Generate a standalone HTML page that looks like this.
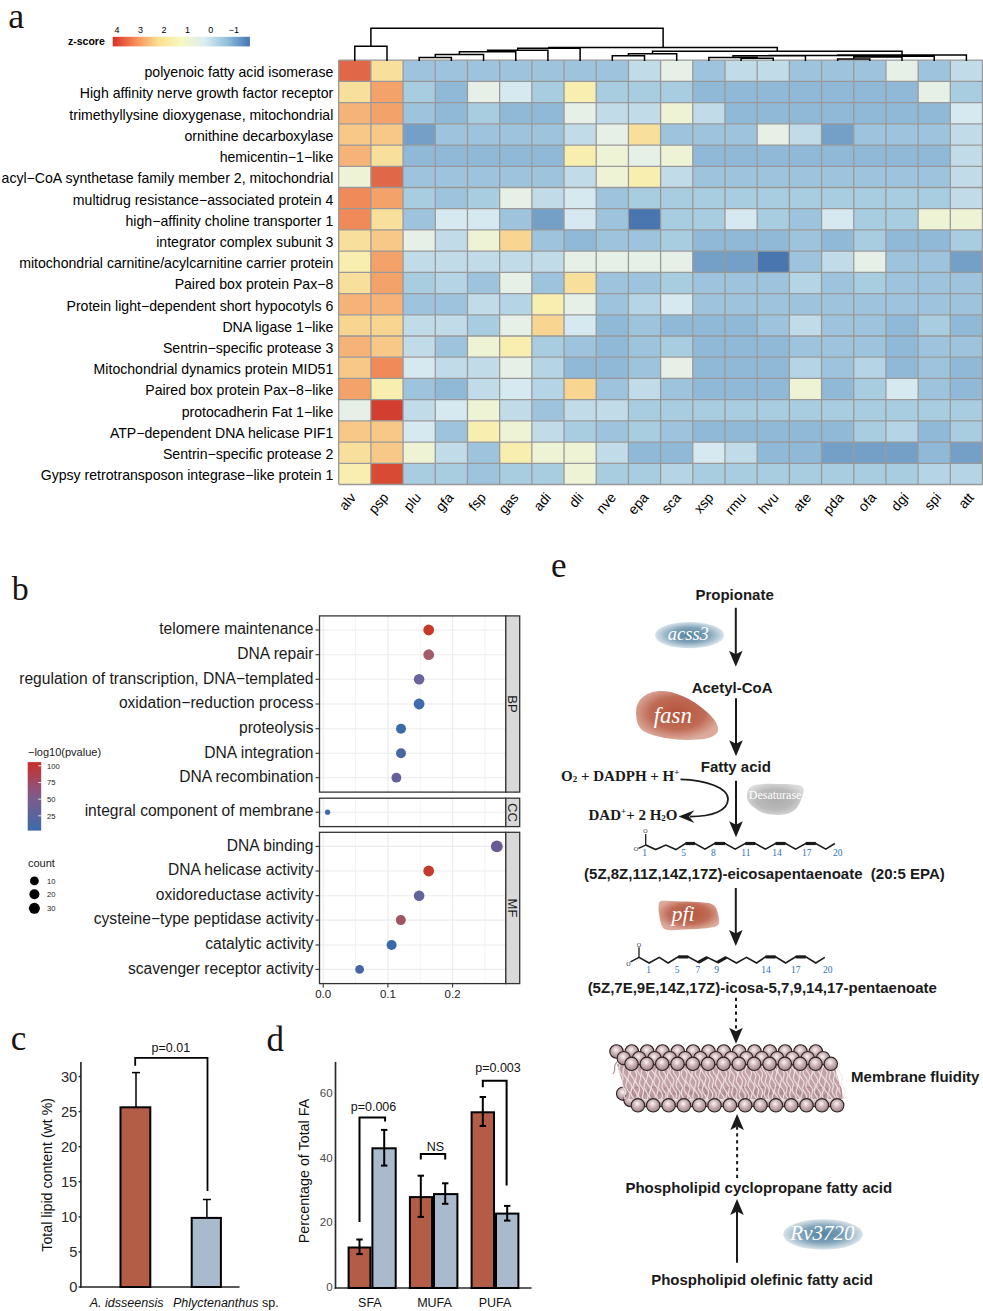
<!DOCTYPE html>
<html><head><meta charset="utf-8"><style>
html,body{margin:0;padding:0;background:#fff;}
body{width:983px;height:1311px;overflow:hidden;font-family:"Liberation Sans",sans-serif;}
svg{display:block;}
</style></head><body>
<svg width="983" height="1311" viewBox="0 0 983 1311">
<rect width="983" height="1311" fill="#fff"/>
<text x="8.30" y="27.80" font-family="Liberation Serif" font-size="36" text-anchor="start" font-weight="normal" font-style="normal" fill="#1a1512" >a</text>
<defs><linearGradient id="zs" x1="0" x2="1" y1="0" y2="0"><stop offset="0" stop-color="#d73027"/><stop offset="0.1667" stop-color="#f88d59"/><stop offset="0.3333" stop-color="#fbe090"/><stop offset="0.5" stop-color="#f8f8c0"/><stop offset="0.6667" stop-color="#dcedf2"/><stop offset="0.8333" stop-color="#91bfdb"/><stop offset="1" stop-color="#4575b4"/></linearGradient><linearGradient id="pv" x1="0" x2="0" y1="1" y2="0"><stop offset="0" stop-color="#3b6bab"/><stop offset="0.5" stop-color="#805a8a"/><stop offset="1" stop-color="#c9302a"/></linearGradient></defs>
<rect x="112.70" y="36.80" width="137.20" height="9.60" fill="url(#zs)" stroke="none" stroke-width="0" />
<text x="104.80" y="45.00" font-family="Liberation Sans" font-size="10.5" text-anchor="end" font-weight="bold" font-style="normal" fill="#000" >z-score</text>
<text x="117.10" y="33.20" font-family="Liberation Sans" font-size="9" text-anchor="middle" font-weight="normal" font-style="normal" fill="#000" >4</text>
<text x="140.60" y="33.20" font-family="Liberation Sans" font-size="9" text-anchor="middle" font-weight="normal" font-style="normal" fill="#000" >3</text>
<text x="164.10" y="33.20" font-family="Liberation Sans" font-size="9" text-anchor="middle" font-weight="normal" font-style="normal" fill="#000" >2</text>
<text x="187.60" y="33.20" font-family="Liberation Sans" font-size="9" text-anchor="middle" font-weight="normal" font-style="normal" fill="#000" >1</text>
<text x="210.70" y="33.20" font-family="Liberation Sans" font-size="9" text-anchor="middle" font-weight="normal" font-style="normal" fill="#000" >0</text>
<text x="234.00" y="33.20" font-family="Liberation Sans" font-size="9" text-anchor="middle" font-weight="normal" font-style="normal" fill="#000" >−1</text>
<rect x="338.70" y="60.20" width="32.19" height="21.21" fill="#e06848" stroke="none" stroke-width="0" />
<rect x="370.89" y="60.20" width="32.19" height="21.21" fill="#f8df9c" stroke="none" stroke-width="0" />
<rect x="403.08" y="60.20" width="32.19" height="21.21" fill="#9dc4dc" stroke="none" stroke-width="0" />
<rect x="435.27" y="60.20" width="32.19" height="21.21" fill="#9dc4dc" stroke="none" stroke-width="0" />
<rect x="467.46" y="60.20" width="32.19" height="21.21" fill="#9dc4dc" stroke="none" stroke-width="0" />
<rect x="499.65" y="60.20" width="32.19" height="21.21" fill="#9dc4dc" stroke="none" stroke-width="0" />
<rect x="531.84" y="60.20" width="32.19" height="21.21" fill="#9dc4dc" stroke="none" stroke-width="0" />
<rect x="564.03" y="60.20" width="32.19" height="21.21" fill="#9dc4dc" stroke="none" stroke-width="0" />
<rect x="596.22" y="60.20" width="32.19" height="21.21" fill="#9dc4dc" stroke="none" stroke-width="0" />
<rect x="628.41" y="60.20" width="32.19" height="21.21" fill="#c2dbe9" stroke="none" stroke-width="0" />
<rect x="660.60" y="60.20" width="32.19" height="21.21" fill="#e6f0e6" stroke="none" stroke-width="0" />
<rect x="692.79" y="60.20" width="32.19" height="21.21" fill="#9dc4dc" stroke="none" stroke-width="0" />
<rect x="724.98" y="60.20" width="32.19" height="21.21" fill="#c2dbe9" stroke="none" stroke-width="0" />
<rect x="757.17" y="60.20" width="32.19" height="21.21" fill="#c2dbe9" stroke="none" stroke-width="0" />
<rect x="789.36" y="60.20" width="32.19" height="21.21" fill="#9dc4dc" stroke="none" stroke-width="0" />
<rect x="821.55" y="60.20" width="32.19" height="21.21" fill="#9dc4dc" stroke="none" stroke-width="0" />
<rect x="853.74" y="60.20" width="32.19" height="21.21" fill="#9dc4dc" stroke="none" stroke-width="0" />
<rect x="885.93" y="60.20" width="32.19" height="21.21" fill="#e6f0e6" stroke="none" stroke-width="0" />
<rect x="918.12" y="60.20" width="32.19" height="21.21" fill="#9dc4dc" stroke="none" stroke-width="0" />
<rect x="950.31" y="60.20" width="32.19" height="21.21" fill="#c2dbe9" stroke="none" stroke-width="0" />
<rect x="338.70" y="81.42" width="32.19" height="21.21" fill="#f8df9c" stroke="none" stroke-width="0" />
<rect x="370.89" y="81.42" width="32.19" height="21.21" fill="#f3a36a" stroke="none" stroke-width="0" />
<rect x="403.08" y="81.42" width="32.19" height="21.21" fill="#a8cce0" stroke="none" stroke-width="0" />
<rect x="435.27" y="81.42" width="32.19" height="21.21" fill="#8fb9d7" stroke="none" stroke-width="0" />
<rect x="467.46" y="81.42" width="32.19" height="21.21" fill="#e6f0e6" stroke="none" stroke-width="0" />
<rect x="499.65" y="81.42" width="32.19" height="21.21" fill="#d6e9f1" stroke="none" stroke-width="0" />
<rect x="531.84" y="81.42" width="32.19" height="21.21" fill="#a8cce0" stroke="none" stroke-width="0" />
<rect x="564.03" y="81.42" width="32.19" height="21.21" fill="#f7eeb0" stroke="none" stroke-width="0" />
<rect x="596.22" y="81.42" width="32.19" height="21.21" fill="#a8cce0" stroke="none" stroke-width="0" />
<rect x="628.41" y="81.42" width="32.19" height="21.21" fill="#a8cce0" stroke="none" stroke-width="0" />
<rect x="660.60" y="81.42" width="32.19" height="21.21" fill="#a8cce0" stroke="none" stroke-width="0" />
<rect x="692.79" y="81.42" width="32.19" height="21.21" fill="#8fb9d7" stroke="none" stroke-width="0" />
<rect x="724.98" y="81.42" width="32.19" height="21.21" fill="#8fb9d7" stroke="none" stroke-width="0" />
<rect x="757.17" y="81.42" width="32.19" height="21.21" fill="#8fb9d7" stroke="none" stroke-width="0" />
<rect x="789.36" y="81.42" width="32.19" height="21.21" fill="#8fb9d7" stroke="none" stroke-width="0" />
<rect x="821.55" y="81.42" width="32.19" height="21.21" fill="#8fb9d7" stroke="none" stroke-width="0" />
<rect x="853.74" y="81.42" width="32.19" height="21.21" fill="#8fb9d7" stroke="none" stroke-width="0" />
<rect x="885.93" y="81.42" width="32.19" height="21.21" fill="#8fb9d7" stroke="none" stroke-width="0" />
<rect x="918.12" y="81.42" width="32.19" height="21.21" fill="#e6f0e6" stroke="none" stroke-width="0" />
<rect x="950.31" y="81.42" width="32.19" height="21.21" fill="#a8cce0" stroke="none" stroke-width="0" />
<rect x="338.70" y="102.63" width="32.19" height="21.21" fill="#f5b37a" stroke="none" stroke-width="0" />
<rect x="370.89" y="102.63" width="32.19" height="21.21" fill="#f3a36a" stroke="none" stroke-width="0" />
<rect x="403.08" y="102.63" width="32.19" height="21.21" fill="#9dc4dc" stroke="none" stroke-width="0" />
<rect x="435.27" y="102.63" width="32.19" height="21.21" fill="#8fb9d7" stroke="none" stroke-width="0" />
<rect x="467.46" y="102.63" width="32.19" height="21.21" fill="#a8cce0" stroke="none" stroke-width="0" />
<rect x="499.65" y="102.63" width="32.19" height="21.21" fill="#8fb9d7" stroke="none" stroke-width="0" />
<rect x="531.84" y="102.63" width="32.19" height="21.21" fill="#8fb9d7" stroke="none" stroke-width="0" />
<rect x="564.03" y="102.63" width="32.19" height="21.21" fill="#e6f0e6" stroke="none" stroke-width="0" />
<rect x="596.22" y="102.63" width="32.19" height="21.21" fill="#c2dbe9" stroke="none" stroke-width="0" />
<rect x="628.41" y="102.63" width="32.19" height="21.21" fill="#c2dbe9" stroke="none" stroke-width="0" />
<rect x="660.60" y="102.63" width="32.19" height="21.21" fill="#eff3d6" stroke="none" stroke-width="0" />
<rect x="692.79" y="102.63" width="32.19" height="21.21" fill="#c2dbe9" stroke="none" stroke-width="0" />
<rect x="724.98" y="102.63" width="32.19" height="21.21" fill="#8fb9d7" stroke="none" stroke-width="0" />
<rect x="757.17" y="102.63" width="32.19" height="21.21" fill="#8fb9d7" stroke="none" stroke-width="0" />
<rect x="789.36" y="102.63" width="32.19" height="21.21" fill="#8fb9d7" stroke="none" stroke-width="0" />
<rect x="821.55" y="102.63" width="32.19" height="21.21" fill="#8fb9d7" stroke="none" stroke-width="0" />
<rect x="853.74" y="102.63" width="32.19" height="21.21" fill="#8fb9d7" stroke="none" stroke-width="0" />
<rect x="885.93" y="102.63" width="32.19" height="21.21" fill="#8fb9d7" stroke="none" stroke-width="0" />
<rect x="918.12" y="102.63" width="32.19" height="21.21" fill="#8fb9d7" stroke="none" stroke-width="0" />
<rect x="950.31" y="102.63" width="32.19" height="21.21" fill="#d6e9f1" stroke="none" stroke-width="0" />
<rect x="338.70" y="123.84" width="32.19" height="21.21" fill="#f7c888" stroke="none" stroke-width="0" />
<rect x="370.89" y="123.84" width="32.19" height="21.21" fill="#f7c888" stroke="none" stroke-width="0" />
<rect x="403.08" y="123.84" width="32.19" height="21.21" fill="#74a0c8" stroke="none" stroke-width="0" />
<rect x="435.27" y="123.84" width="32.19" height="21.21" fill="#9dc4dc" stroke="none" stroke-width="0" />
<rect x="467.46" y="123.84" width="32.19" height="21.21" fill="#9dc4dc" stroke="none" stroke-width="0" />
<rect x="499.65" y="123.84" width="32.19" height="21.21" fill="#9dc4dc" stroke="none" stroke-width="0" />
<rect x="531.84" y="123.84" width="32.19" height="21.21" fill="#9dc4dc" stroke="none" stroke-width="0" />
<rect x="564.03" y="123.84" width="32.19" height="21.21" fill="#c2dbe9" stroke="none" stroke-width="0" />
<rect x="596.22" y="123.84" width="32.19" height="21.21" fill="#e6f0e6" stroke="none" stroke-width="0" />
<rect x="628.41" y="123.84" width="32.19" height="21.21" fill="#f8df9c" stroke="none" stroke-width="0" />
<rect x="660.60" y="123.84" width="32.19" height="21.21" fill="#9dc4dc" stroke="none" stroke-width="0" />
<rect x="692.79" y="123.84" width="32.19" height="21.21" fill="#9dc4dc" stroke="none" stroke-width="0" />
<rect x="724.98" y="123.84" width="32.19" height="21.21" fill="#9dc4dc" stroke="none" stroke-width="0" />
<rect x="757.17" y="123.84" width="32.19" height="21.21" fill="#e6f0e6" stroke="none" stroke-width="0" />
<rect x="789.36" y="123.84" width="32.19" height="21.21" fill="#c2dbe9" stroke="none" stroke-width="0" />
<rect x="821.55" y="123.84" width="32.19" height="21.21" fill="#74a0c8" stroke="none" stroke-width="0" />
<rect x="853.74" y="123.84" width="32.19" height="21.21" fill="#9dc4dc" stroke="none" stroke-width="0" />
<rect x="885.93" y="123.84" width="32.19" height="21.21" fill="#9dc4dc" stroke="none" stroke-width="0" />
<rect x="918.12" y="123.84" width="32.19" height="21.21" fill="#9dc4dc" stroke="none" stroke-width="0" />
<rect x="950.31" y="123.84" width="32.19" height="21.21" fill="#c2dbe9" stroke="none" stroke-width="0" />
<rect x="338.70" y="145.06" width="32.19" height="21.21" fill="#f5b37a" stroke="none" stroke-width="0" />
<rect x="370.89" y="145.06" width="32.19" height="21.21" fill="#f8df9c" stroke="none" stroke-width="0" />
<rect x="403.08" y="145.06" width="32.19" height="21.21" fill="#8fb9d7" stroke="none" stroke-width="0" />
<rect x="435.27" y="145.06" width="32.19" height="21.21" fill="#8fb9d7" stroke="none" stroke-width="0" />
<rect x="467.46" y="145.06" width="32.19" height="21.21" fill="#8fb9d7" stroke="none" stroke-width="0" />
<rect x="499.65" y="145.06" width="32.19" height="21.21" fill="#8fb9d7" stroke="none" stroke-width="0" />
<rect x="531.84" y="145.06" width="32.19" height="21.21" fill="#8fb9d7" stroke="none" stroke-width="0" />
<rect x="564.03" y="145.06" width="32.19" height="21.21" fill="#f7eeb0" stroke="none" stroke-width="0" />
<rect x="596.22" y="145.06" width="32.19" height="21.21" fill="#eff3d6" stroke="none" stroke-width="0" />
<rect x="628.41" y="145.06" width="32.19" height="21.21" fill="#e6f0e6" stroke="none" stroke-width="0" />
<rect x="660.60" y="145.06" width="32.19" height="21.21" fill="#eff3d6" stroke="none" stroke-width="0" />
<rect x="692.79" y="145.06" width="32.19" height="21.21" fill="#8fb9d7" stroke="none" stroke-width="0" />
<rect x="724.98" y="145.06" width="32.19" height="21.21" fill="#8fb9d7" stroke="none" stroke-width="0" />
<rect x="757.17" y="145.06" width="32.19" height="21.21" fill="#8fb9d7" stroke="none" stroke-width="0" />
<rect x="789.36" y="145.06" width="32.19" height="21.21" fill="#8fb9d7" stroke="none" stroke-width="0" />
<rect x="821.55" y="145.06" width="32.19" height="21.21" fill="#8fb9d7" stroke="none" stroke-width="0" />
<rect x="853.74" y="145.06" width="32.19" height="21.21" fill="#8fb9d7" stroke="none" stroke-width="0" />
<rect x="885.93" y="145.06" width="32.19" height="21.21" fill="#8fb9d7" stroke="none" stroke-width="0" />
<rect x="918.12" y="145.06" width="32.19" height="21.21" fill="#8fb9d7" stroke="none" stroke-width="0" />
<rect x="950.31" y="145.06" width="32.19" height="21.21" fill="#c2dbe9" stroke="none" stroke-width="0" />
<rect x="338.70" y="166.28" width="32.19" height="21.21" fill="#eff3d6" stroke="none" stroke-width="0" />
<rect x="370.89" y="166.28" width="32.19" height="21.21" fill="#e06848" stroke="none" stroke-width="0" />
<rect x="403.08" y="166.28" width="32.19" height="21.21" fill="#9dc4dc" stroke="none" stroke-width="0" />
<rect x="435.27" y="166.28" width="32.19" height="21.21" fill="#9dc4dc" stroke="none" stroke-width="0" />
<rect x="467.46" y="166.28" width="32.19" height="21.21" fill="#9dc4dc" stroke="none" stroke-width="0" />
<rect x="499.65" y="166.28" width="32.19" height="21.21" fill="#9dc4dc" stroke="none" stroke-width="0" />
<rect x="531.84" y="166.28" width="32.19" height="21.21" fill="#9dc4dc" stroke="none" stroke-width="0" />
<rect x="564.03" y="166.28" width="32.19" height="21.21" fill="#c2dbe9" stroke="none" stroke-width="0" />
<rect x="596.22" y="166.28" width="32.19" height="21.21" fill="#eff3d6" stroke="none" stroke-width="0" />
<rect x="628.41" y="166.28" width="32.19" height="21.21" fill="#f7eeb0" stroke="none" stroke-width="0" />
<rect x="660.60" y="166.28" width="32.19" height="21.21" fill="#c2dbe9" stroke="none" stroke-width="0" />
<rect x="692.79" y="166.28" width="32.19" height="21.21" fill="#9dc4dc" stroke="none" stroke-width="0" />
<rect x="724.98" y="166.28" width="32.19" height="21.21" fill="#9dc4dc" stroke="none" stroke-width="0" />
<rect x="757.17" y="166.28" width="32.19" height="21.21" fill="#9dc4dc" stroke="none" stroke-width="0" />
<rect x="789.36" y="166.28" width="32.19" height="21.21" fill="#9dc4dc" stroke="none" stroke-width="0" />
<rect x="821.55" y="166.28" width="32.19" height="21.21" fill="#9dc4dc" stroke="none" stroke-width="0" />
<rect x="853.74" y="166.28" width="32.19" height="21.21" fill="#9dc4dc" stroke="none" stroke-width="0" />
<rect x="885.93" y="166.28" width="32.19" height="21.21" fill="#9dc4dc" stroke="none" stroke-width="0" />
<rect x="918.12" y="166.28" width="32.19" height="21.21" fill="#9dc4dc" stroke="none" stroke-width="0" />
<rect x="950.31" y="166.28" width="32.19" height="21.21" fill="#c2dbe9" stroke="none" stroke-width="0" />
<rect x="338.70" y="187.49" width="32.19" height="21.21" fill="#f08a58" stroke="none" stroke-width="0" />
<rect x="370.89" y="187.49" width="32.19" height="21.21" fill="#f3a36a" stroke="none" stroke-width="0" />
<rect x="403.08" y="187.49" width="32.19" height="21.21" fill="#a8cce0" stroke="none" stroke-width="0" />
<rect x="435.27" y="187.49" width="32.19" height="21.21" fill="#9dc4dc" stroke="none" stroke-width="0" />
<rect x="467.46" y="187.49" width="32.19" height="21.21" fill="#a8cce0" stroke="none" stroke-width="0" />
<rect x="499.65" y="187.49" width="32.19" height="21.21" fill="#e6f0e6" stroke="none" stroke-width="0" />
<rect x="531.84" y="187.49" width="32.19" height="21.21" fill="#c2dbe9" stroke="none" stroke-width="0" />
<rect x="564.03" y="187.49" width="32.19" height="21.21" fill="#d6e9f1" stroke="none" stroke-width="0" />
<rect x="596.22" y="187.49" width="32.19" height="21.21" fill="#9dc4dc" stroke="none" stroke-width="0" />
<rect x="628.41" y="187.49" width="32.19" height="21.21" fill="#a8cce0" stroke="none" stroke-width="0" />
<rect x="660.60" y="187.49" width="32.19" height="21.21" fill="#a8cce0" stroke="none" stroke-width="0" />
<rect x="692.79" y="187.49" width="32.19" height="21.21" fill="#a8cce0" stroke="none" stroke-width="0" />
<rect x="724.98" y="187.49" width="32.19" height="21.21" fill="#a8cce0" stroke="none" stroke-width="0" />
<rect x="757.17" y="187.49" width="32.19" height="21.21" fill="#a8cce0" stroke="none" stroke-width="0" />
<rect x="789.36" y="187.49" width="32.19" height="21.21" fill="#a8cce0" stroke="none" stroke-width="0" />
<rect x="821.55" y="187.49" width="32.19" height="21.21" fill="#a8cce0" stroke="none" stroke-width="0" />
<rect x="853.74" y="187.49" width="32.19" height="21.21" fill="#a8cce0" stroke="none" stroke-width="0" />
<rect x="885.93" y="187.49" width="32.19" height="21.21" fill="#a8cce0" stroke="none" stroke-width="0" />
<rect x="918.12" y="187.49" width="32.19" height="21.21" fill="#a8cce0" stroke="none" stroke-width="0" />
<rect x="950.31" y="187.49" width="32.19" height="21.21" fill="#c2dbe9" stroke="none" stroke-width="0" />
<rect x="338.70" y="208.70" width="32.19" height="21.21" fill="#f08a58" stroke="none" stroke-width="0" />
<rect x="370.89" y="208.70" width="32.19" height="21.21" fill="#f8df9c" stroke="none" stroke-width="0" />
<rect x="403.08" y="208.70" width="32.19" height="21.21" fill="#9dc4dc" stroke="none" stroke-width="0" />
<rect x="435.27" y="208.70" width="32.19" height="21.21" fill="#d6e9f1" stroke="none" stroke-width="0" />
<rect x="467.46" y="208.70" width="32.19" height="21.21" fill="#d6e9f1" stroke="none" stroke-width="0" />
<rect x="499.65" y="208.70" width="32.19" height="21.21" fill="#9dc4dc" stroke="none" stroke-width="0" />
<rect x="531.84" y="208.70" width="32.19" height="21.21" fill="#74a0c8" stroke="none" stroke-width="0" />
<rect x="564.03" y="208.70" width="32.19" height="21.21" fill="#d6e9f1" stroke="none" stroke-width="0" />
<rect x="596.22" y="208.70" width="32.19" height="21.21" fill="#9dc4dc" stroke="none" stroke-width="0" />
<rect x="628.41" y="208.70" width="32.19" height="21.21" fill="#4a76b0" stroke="none" stroke-width="0" />
<rect x="660.60" y="208.70" width="32.19" height="21.21" fill="#a8cce0" stroke="none" stroke-width="0" />
<rect x="692.79" y="208.70" width="32.19" height="21.21" fill="#a8cce0" stroke="none" stroke-width="0" />
<rect x="724.98" y="208.70" width="32.19" height="21.21" fill="#d6e9f1" stroke="none" stroke-width="0" />
<rect x="757.17" y="208.70" width="32.19" height="21.21" fill="#a8cce0" stroke="none" stroke-width="0" />
<rect x="789.36" y="208.70" width="32.19" height="21.21" fill="#9dc4dc" stroke="none" stroke-width="0" />
<rect x="821.55" y="208.70" width="32.19" height="21.21" fill="#d6e9f1" stroke="none" stroke-width="0" />
<rect x="853.74" y="208.70" width="32.19" height="21.21" fill="#a8cce0" stroke="none" stroke-width="0" />
<rect x="885.93" y="208.70" width="32.19" height="21.21" fill="#a8cce0" stroke="none" stroke-width="0" />
<rect x="918.12" y="208.70" width="32.19" height="21.21" fill="#eff3d6" stroke="none" stroke-width="0" />
<rect x="950.31" y="208.70" width="32.19" height="21.21" fill="#eff3d6" stroke="none" stroke-width="0" />
<rect x="338.70" y="229.92" width="32.19" height="21.21" fill="#f8df9c" stroke="none" stroke-width="0" />
<rect x="370.89" y="229.92" width="32.19" height="21.21" fill="#f7c888" stroke="none" stroke-width="0" />
<rect x="403.08" y="229.92" width="32.19" height="21.21" fill="#e6f0e6" stroke="none" stroke-width="0" />
<rect x="435.27" y="229.92" width="32.19" height="21.21" fill="#c2dbe9" stroke="none" stroke-width="0" />
<rect x="467.46" y="229.92" width="32.19" height="21.21" fill="#eff3d6" stroke="none" stroke-width="0" />
<rect x="499.65" y="229.92" width="32.19" height="21.21" fill="#f8d692" stroke="none" stroke-width="0" />
<rect x="531.84" y="229.92" width="32.19" height="21.21" fill="#9dc4dc" stroke="none" stroke-width="0" />
<rect x="564.03" y="229.92" width="32.19" height="21.21" fill="#8fb9d7" stroke="none" stroke-width="0" />
<rect x="596.22" y="229.92" width="32.19" height="21.21" fill="#9dc4dc" stroke="none" stroke-width="0" />
<rect x="628.41" y="229.92" width="32.19" height="21.21" fill="#9dc4dc" stroke="none" stroke-width="0" />
<rect x="660.60" y="229.92" width="32.19" height="21.21" fill="#a8cce0" stroke="none" stroke-width="0" />
<rect x="692.79" y="229.92" width="32.19" height="21.21" fill="#8fb9d7" stroke="none" stroke-width="0" />
<rect x="724.98" y="229.92" width="32.19" height="21.21" fill="#8fb9d7" stroke="none" stroke-width="0" />
<rect x="757.17" y="229.92" width="32.19" height="21.21" fill="#8fb9d7" stroke="none" stroke-width="0" />
<rect x="789.36" y="229.92" width="32.19" height="21.21" fill="#9dc4dc" stroke="none" stroke-width="0" />
<rect x="821.55" y="229.92" width="32.19" height="21.21" fill="#8fb9d7" stroke="none" stroke-width="0" />
<rect x="853.74" y="229.92" width="32.19" height="21.21" fill="#a8cce0" stroke="none" stroke-width="0" />
<rect x="885.93" y="229.92" width="32.19" height="21.21" fill="#8fb9d7" stroke="none" stroke-width="0" />
<rect x="918.12" y="229.92" width="32.19" height="21.21" fill="#8fb9d7" stroke="none" stroke-width="0" />
<rect x="950.31" y="229.92" width="32.19" height="21.21" fill="#a8cce0" stroke="none" stroke-width="0" />
<rect x="338.70" y="251.13" width="32.19" height="21.21" fill="#f7eeb0" stroke="none" stroke-width="0" />
<rect x="370.89" y="251.13" width="32.19" height="21.21" fill="#f3a36a" stroke="none" stroke-width="0" />
<rect x="403.08" y="251.13" width="32.19" height="21.21" fill="#c2dbe9" stroke="none" stroke-width="0" />
<rect x="435.27" y="251.13" width="32.19" height="21.21" fill="#c2dbe9" stroke="none" stroke-width="0" />
<rect x="467.46" y="251.13" width="32.19" height="21.21" fill="#c2dbe9" stroke="none" stroke-width="0" />
<rect x="499.65" y="251.13" width="32.19" height="21.21" fill="#c2dbe9" stroke="none" stroke-width="0" />
<rect x="531.84" y="251.13" width="32.19" height="21.21" fill="#c2dbe9" stroke="none" stroke-width="0" />
<rect x="564.03" y="251.13" width="32.19" height="21.21" fill="#e6f0e6" stroke="none" stroke-width="0" />
<rect x="596.22" y="251.13" width="32.19" height="21.21" fill="#e6f0e6" stroke="none" stroke-width="0" />
<rect x="628.41" y="251.13" width="32.19" height="21.21" fill="#e6f0e6" stroke="none" stroke-width="0" />
<rect x="660.60" y="251.13" width="32.19" height="21.21" fill="#e6f0e6" stroke="none" stroke-width="0" />
<rect x="692.79" y="251.13" width="32.19" height="21.21" fill="#74a0c8" stroke="none" stroke-width="0" />
<rect x="724.98" y="251.13" width="32.19" height="21.21" fill="#74a0c8" stroke="none" stroke-width="0" />
<rect x="757.17" y="251.13" width="32.19" height="21.21" fill="#4a76b0" stroke="none" stroke-width="0" />
<rect x="789.36" y="251.13" width="32.19" height="21.21" fill="#9dc4dc" stroke="none" stroke-width="0" />
<rect x="821.55" y="251.13" width="32.19" height="21.21" fill="#c2dbe9" stroke="none" stroke-width="0" />
<rect x="853.74" y="251.13" width="32.19" height="21.21" fill="#e6f0e6" stroke="none" stroke-width="0" />
<rect x="885.93" y="251.13" width="32.19" height="21.21" fill="#9dc4dc" stroke="none" stroke-width="0" />
<rect x="918.12" y="251.13" width="32.19" height="21.21" fill="#9dc4dc" stroke="none" stroke-width="0" />
<rect x="950.31" y="251.13" width="32.19" height="21.21" fill="#74a0c8" stroke="none" stroke-width="0" />
<rect x="338.70" y="272.35" width="32.19" height="21.21" fill="#f8df9c" stroke="none" stroke-width="0" />
<rect x="370.89" y="272.35" width="32.19" height="21.21" fill="#f3a36a" stroke="none" stroke-width="0" />
<rect x="403.08" y="272.35" width="32.19" height="21.21" fill="#a8cce0" stroke="none" stroke-width="0" />
<rect x="435.27" y="272.35" width="32.19" height="21.21" fill="#b5d4e6" stroke="none" stroke-width="0" />
<rect x="467.46" y="272.35" width="32.19" height="21.21" fill="#9dc4dc" stroke="none" stroke-width="0" />
<rect x="499.65" y="272.35" width="32.19" height="21.21" fill="#e6f0e6" stroke="none" stroke-width="0" />
<rect x="531.84" y="272.35" width="32.19" height="21.21" fill="#9dc4dc" stroke="none" stroke-width="0" />
<rect x="564.03" y="272.35" width="32.19" height="21.21" fill="#f8df9c" stroke="none" stroke-width="0" />
<rect x="596.22" y="272.35" width="32.19" height="21.21" fill="#9dc4dc" stroke="none" stroke-width="0" />
<rect x="628.41" y="272.35" width="32.19" height="21.21" fill="#9dc4dc" stroke="none" stroke-width="0" />
<rect x="660.60" y="272.35" width="32.19" height="21.21" fill="#a8cce0" stroke="none" stroke-width="0" />
<rect x="692.79" y="272.35" width="32.19" height="21.21" fill="#9dc4dc" stroke="none" stroke-width="0" />
<rect x="724.98" y="272.35" width="32.19" height="21.21" fill="#9dc4dc" stroke="none" stroke-width="0" />
<rect x="757.17" y="272.35" width="32.19" height="21.21" fill="#9dc4dc" stroke="none" stroke-width="0" />
<rect x="789.36" y="272.35" width="32.19" height="21.21" fill="#b5d4e6" stroke="none" stroke-width="0" />
<rect x="821.55" y="272.35" width="32.19" height="21.21" fill="#9dc4dc" stroke="none" stroke-width="0" />
<rect x="853.74" y="272.35" width="32.19" height="21.21" fill="#a8cce0" stroke="none" stroke-width="0" />
<rect x="885.93" y="272.35" width="32.19" height="21.21" fill="#9dc4dc" stroke="none" stroke-width="0" />
<rect x="918.12" y="272.35" width="32.19" height="21.21" fill="#9dc4dc" stroke="none" stroke-width="0" />
<rect x="950.31" y="272.35" width="32.19" height="21.21" fill="#9dc4dc" stroke="none" stroke-width="0" />
<rect x="338.70" y="293.56" width="32.19" height="21.21" fill="#f5b37a" stroke="none" stroke-width="0" />
<rect x="370.89" y="293.56" width="32.19" height="21.21" fill="#f5b37a" stroke="none" stroke-width="0" />
<rect x="403.08" y="293.56" width="32.19" height="21.21" fill="#9dc4dc" stroke="none" stroke-width="0" />
<rect x="435.27" y="293.56" width="32.19" height="21.21" fill="#9dc4dc" stroke="none" stroke-width="0" />
<rect x="467.46" y="293.56" width="32.19" height="21.21" fill="#c2dbe9" stroke="none" stroke-width="0" />
<rect x="499.65" y="293.56" width="32.19" height="21.21" fill="#b5d4e6" stroke="none" stroke-width="0" />
<rect x="531.84" y="293.56" width="32.19" height="21.21" fill="#f7eeb0" stroke="none" stroke-width="0" />
<rect x="564.03" y="293.56" width="32.19" height="21.21" fill="#e6f0e6" stroke="none" stroke-width="0" />
<rect x="596.22" y="293.56" width="32.19" height="21.21" fill="#9dc4dc" stroke="none" stroke-width="0" />
<rect x="628.41" y="293.56" width="32.19" height="21.21" fill="#b5d4e6" stroke="none" stroke-width="0" />
<rect x="660.60" y="293.56" width="32.19" height="21.21" fill="#d6e9f1" stroke="none" stroke-width="0" />
<rect x="692.79" y="293.56" width="32.19" height="21.21" fill="#9dc4dc" stroke="none" stroke-width="0" />
<rect x="724.98" y="293.56" width="32.19" height="21.21" fill="#9dc4dc" stroke="none" stroke-width="0" />
<rect x="757.17" y="293.56" width="32.19" height="21.21" fill="#9dc4dc" stroke="none" stroke-width="0" />
<rect x="789.36" y="293.56" width="32.19" height="21.21" fill="#9dc4dc" stroke="none" stroke-width="0" />
<rect x="821.55" y="293.56" width="32.19" height="21.21" fill="#9dc4dc" stroke="none" stroke-width="0" />
<rect x="853.74" y="293.56" width="32.19" height="21.21" fill="#9dc4dc" stroke="none" stroke-width="0" />
<rect x="885.93" y="293.56" width="32.19" height="21.21" fill="#9dc4dc" stroke="none" stroke-width="0" />
<rect x="918.12" y="293.56" width="32.19" height="21.21" fill="#9dc4dc" stroke="none" stroke-width="0" />
<rect x="950.31" y="293.56" width="32.19" height="21.21" fill="#9dc4dc" stroke="none" stroke-width="0" />
<rect x="338.70" y="314.78" width="32.19" height="21.21" fill="#f8d692" stroke="none" stroke-width="0" />
<rect x="370.89" y="314.78" width="32.19" height="21.21" fill="#f8d692" stroke="none" stroke-width="0" />
<rect x="403.08" y="314.78" width="32.19" height="21.21" fill="#c2dbe9" stroke="none" stroke-width="0" />
<rect x="435.27" y="314.78" width="32.19" height="21.21" fill="#c2dbe9" stroke="none" stroke-width="0" />
<rect x="467.46" y="314.78" width="32.19" height="21.21" fill="#a8cce0" stroke="none" stroke-width="0" />
<rect x="499.65" y="314.78" width="32.19" height="21.21" fill="#e6f0e6" stroke="none" stroke-width="0" />
<rect x="531.84" y="314.78" width="32.19" height="21.21" fill="#f8d692" stroke="none" stroke-width="0" />
<rect x="564.03" y="314.78" width="32.19" height="21.21" fill="#d6e9f1" stroke="none" stroke-width="0" />
<rect x="596.22" y="314.78" width="32.19" height="21.21" fill="#8fb9d7" stroke="none" stroke-width="0" />
<rect x="628.41" y="314.78" width="32.19" height="21.21" fill="#9dc4dc" stroke="none" stroke-width="0" />
<rect x="660.60" y="314.78" width="32.19" height="21.21" fill="#8fb9d7" stroke="none" stroke-width="0" />
<rect x="692.79" y="314.78" width="32.19" height="21.21" fill="#8fb9d7" stroke="none" stroke-width="0" />
<rect x="724.98" y="314.78" width="32.19" height="21.21" fill="#8fb9d7" stroke="none" stroke-width="0" />
<rect x="757.17" y="314.78" width="32.19" height="21.21" fill="#9dc4dc" stroke="none" stroke-width="0" />
<rect x="789.36" y="314.78" width="32.19" height="21.21" fill="#c2dbe9" stroke="none" stroke-width="0" />
<rect x="821.55" y="314.78" width="32.19" height="21.21" fill="#9dc4dc" stroke="none" stroke-width="0" />
<rect x="853.74" y="314.78" width="32.19" height="21.21" fill="#9dc4dc" stroke="none" stroke-width="0" />
<rect x="885.93" y="314.78" width="32.19" height="21.21" fill="#8fb9d7" stroke="none" stroke-width="0" />
<rect x="918.12" y="314.78" width="32.19" height="21.21" fill="#a8cce0" stroke="none" stroke-width="0" />
<rect x="950.31" y="314.78" width="32.19" height="21.21" fill="#8fb9d7" stroke="none" stroke-width="0" />
<rect x="338.70" y="336.00" width="32.19" height="21.21" fill="#f5b37a" stroke="none" stroke-width="0" />
<rect x="370.89" y="336.00" width="32.19" height="21.21" fill="#f7c888" stroke="none" stroke-width="0" />
<rect x="403.08" y="336.00" width="32.19" height="21.21" fill="#c2dbe9" stroke="none" stroke-width="0" />
<rect x="435.27" y="336.00" width="32.19" height="21.21" fill="#9dc4dc" stroke="none" stroke-width="0" />
<rect x="467.46" y="336.00" width="32.19" height="21.21" fill="#eff3d6" stroke="none" stroke-width="0" />
<rect x="499.65" y="336.00" width="32.19" height="21.21" fill="#f7eeb0" stroke="none" stroke-width="0" />
<rect x="531.84" y="336.00" width="32.19" height="21.21" fill="#a8cce0" stroke="none" stroke-width="0" />
<rect x="564.03" y="336.00" width="32.19" height="21.21" fill="#9dc4dc" stroke="none" stroke-width="0" />
<rect x="596.22" y="336.00" width="32.19" height="21.21" fill="#8fb9d7" stroke="none" stroke-width="0" />
<rect x="628.41" y="336.00" width="32.19" height="21.21" fill="#9dc4dc" stroke="none" stroke-width="0" />
<rect x="660.60" y="336.00" width="32.19" height="21.21" fill="#a8cce0" stroke="none" stroke-width="0" />
<rect x="692.79" y="336.00" width="32.19" height="21.21" fill="#8fb9d7" stroke="none" stroke-width="0" />
<rect x="724.98" y="336.00" width="32.19" height="21.21" fill="#8fb9d7" stroke="none" stroke-width="0" />
<rect x="757.17" y="336.00" width="32.19" height="21.21" fill="#8fb9d7" stroke="none" stroke-width="0" />
<rect x="789.36" y="336.00" width="32.19" height="21.21" fill="#9dc4dc" stroke="none" stroke-width="0" />
<rect x="821.55" y="336.00" width="32.19" height="21.21" fill="#9dc4dc" stroke="none" stroke-width="0" />
<rect x="853.74" y="336.00" width="32.19" height="21.21" fill="#9dc4dc" stroke="none" stroke-width="0" />
<rect x="885.93" y="336.00" width="32.19" height="21.21" fill="#8fb9d7" stroke="none" stroke-width="0" />
<rect x="918.12" y="336.00" width="32.19" height="21.21" fill="#9dc4dc" stroke="none" stroke-width="0" />
<rect x="950.31" y="336.00" width="32.19" height="21.21" fill="#9dc4dc" stroke="none" stroke-width="0" />
<rect x="338.70" y="357.21" width="32.19" height="21.21" fill="#f7c888" stroke="none" stroke-width="0" />
<rect x="370.89" y="357.21" width="32.19" height="21.21" fill="#f08a58" stroke="none" stroke-width="0" />
<rect x="403.08" y="357.21" width="32.19" height="21.21" fill="#d6e9f1" stroke="none" stroke-width="0" />
<rect x="435.27" y="357.21" width="32.19" height="21.21" fill="#c2dbe9" stroke="none" stroke-width="0" />
<rect x="467.46" y="357.21" width="32.19" height="21.21" fill="#c2dbe9" stroke="none" stroke-width="0" />
<rect x="499.65" y="357.21" width="32.19" height="21.21" fill="#e6f0e6" stroke="none" stroke-width="0" />
<rect x="531.84" y="357.21" width="32.19" height="21.21" fill="#b5d4e6" stroke="none" stroke-width="0" />
<rect x="564.03" y="357.21" width="32.19" height="21.21" fill="#8fb9d7" stroke="none" stroke-width="0" />
<rect x="596.22" y="357.21" width="32.19" height="21.21" fill="#8fb9d7" stroke="none" stroke-width="0" />
<rect x="628.41" y="357.21" width="32.19" height="21.21" fill="#9dc4dc" stroke="none" stroke-width="0" />
<rect x="660.60" y="357.21" width="32.19" height="21.21" fill="#e6f0e6" stroke="none" stroke-width="0" />
<rect x="692.79" y="357.21" width="32.19" height="21.21" fill="#8fb9d7" stroke="none" stroke-width="0" />
<rect x="724.98" y="357.21" width="32.19" height="21.21" fill="#8fb9d7" stroke="none" stroke-width="0" />
<rect x="757.17" y="357.21" width="32.19" height="21.21" fill="#8fb9d7" stroke="none" stroke-width="0" />
<rect x="789.36" y="357.21" width="32.19" height="21.21" fill="#b5d4e6" stroke="none" stroke-width="0" />
<rect x="821.55" y="357.21" width="32.19" height="21.21" fill="#9dc4dc" stroke="none" stroke-width="0" />
<rect x="853.74" y="357.21" width="32.19" height="21.21" fill="#b5d4e6" stroke="none" stroke-width="0" />
<rect x="885.93" y="357.21" width="32.19" height="21.21" fill="#8fb9d7" stroke="none" stroke-width="0" />
<rect x="918.12" y="357.21" width="32.19" height="21.21" fill="#9dc4dc" stroke="none" stroke-width="0" />
<rect x="950.31" y="357.21" width="32.19" height="21.21" fill="#8fb9d7" stroke="none" stroke-width="0" />
<rect x="338.70" y="378.43" width="32.19" height="21.21" fill="#f3a36a" stroke="none" stroke-width="0" />
<rect x="370.89" y="378.43" width="32.19" height="21.21" fill="#f7eeb0" stroke="none" stroke-width="0" />
<rect x="403.08" y="378.43" width="32.19" height="21.21" fill="#9dc4dc" stroke="none" stroke-width="0" />
<rect x="435.27" y="378.43" width="32.19" height="21.21" fill="#8fb9d7" stroke="none" stroke-width="0" />
<rect x="467.46" y="378.43" width="32.19" height="21.21" fill="#c2dbe9" stroke="none" stroke-width="0" />
<rect x="499.65" y="378.43" width="32.19" height="21.21" fill="#d6e9f1" stroke="none" stroke-width="0" />
<rect x="531.84" y="378.43" width="32.19" height="21.21" fill="#b5d4e6" stroke="none" stroke-width="0" />
<rect x="564.03" y="378.43" width="32.19" height="21.21" fill="#f8d692" stroke="none" stroke-width="0" />
<rect x="596.22" y="378.43" width="32.19" height="21.21" fill="#9dc4dc" stroke="none" stroke-width="0" />
<rect x="628.41" y="378.43" width="32.19" height="21.21" fill="#c2dbe9" stroke="none" stroke-width="0" />
<rect x="660.60" y="378.43" width="32.19" height="21.21" fill="#9dc4dc" stroke="none" stroke-width="0" />
<rect x="692.79" y="378.43" width="32.19" height="21.21" fill="#8fb9d7" stroke="none" stroke-width="0" />
<rect x="724.98" y="378.43" width="32.19" height="21.21" fill="#8fb9d7" stroke="none" stroke-width="0" />
<rect x="757.17" y="378.43" width="32.19" height="21.21" fill="#8fb9d7" stroke="none" stroke-width="0" />
<rect x="789.36" y="378.43" width="32.19" height="21.21" fill="#eff3d6" stroke="none" stroke-width="0" />
<rect x="821.55" y="378.43" width="32.19" height="21.21" fill="#8fb9d7" stroke="none" stroke-width="0" />
<rect x="853.74" y="378.43" width="32.19" height="21.21" fill="#a8cce0" stroke="none" stroke-width="0" />
<rect x="885.93" y="378.43" width="32.19" height="21.21" fill="#d6e9f1" stroke="none" stroke-width="0" />
<rect x="918.12" y="378.43" width="32.19" height="21.21" fill="#9dc4dc" stroke="none" stroke-width="0" />
<rect x="950.31" y="378.43" width="32.19" height="21.21" fill="#8fb9d7" stroke="none" stroke-width="0" />
<rect x="338.70" y="399.64" width="32.19" height="21.21" fill="#e6f0e6" stroke="none" stroke-width="0" />
<rect x="370.89" y="399.64" width="32.19" height="21.21" fill="#d23e30" stroke="none" stroke-width="0" />
<rect x="403.08" y="399.64" width="32.19" height="21.21" fill="#c2dbe9" stroke="none" stroke-width="0" />
<rect x="435.27" y="399.64" width="32.19" height="21.21" fill="#d6e9f1" stroke="none" stroke-width="0" />
<rect x="467.46" y="399.64" width="32.19" height="21.21" fill="#eff3d6" stroke="none" stroke-width="0" />
<rect x="499.65" y="399.64" width="32.19" height="21.21" fill="#c2dbe9" stroke="none" stroke-width="0" />
<rect x="531.84" y="399.64" width="32.19" height="21.21" fill="#9dc4dc" stroke="none" stroke-width="0" />
<rect x="564.03" y="399.64" width="32.19" height="21.21" fill="#c2dbe9" stroke="none" stroke-width="0" />
<rect x="596.22" y="399.64" width="32.19" height="21.21" fill="#c2dbe9" stroke="none" stroke-width="0" />
<rect x="628.41" y="399.64" width="32.19" height="21.21" fill="#a8cce0" stroke="none" stroke-width="0" />
<rect x="660.60" y="399.64" width="32.19" height="21.21" fill="#a8cce0" stroke="none" stroke-width="0" />
<rect x="692.79" y="399.64" width="32.19" height="21.21" fill="#a8cce0" stroke="none" stroke-width="0" />
<rect x="724.98" y="399.64" width="32.19" height="21.21" fill="#a8cce0" stroke="none" stroke-width="0" />
<rect x="757.17" y="399.64" width="32.19" height="21.21" fill="#a8cce0" stroke="none" stroke-width="0" />
<rect x="789.36" y="399.64" width="32.19" height="21.21" fill="#a8cce0" stroke="none" stroke-width="0" />
<rect x="821.55" y="399.64" width="32.19" height="21.21" fill="#a8cce0" stroke="none" stroke-width="0" />
<rect x="853.74" y="399.64" width="32.19" height="21.21" fill="#a8cce0" stroke="none" stroke-width="0" />
<rect x="885.93" y="399.64" width="32.19" height="21.21" fill="#a8cce0" stroke="none" stroke-width="0" />
<rect x="918.12" y="399.64" width="32.19" height="21.21" fill="#a8cce0" stroke="none" stroke-width="0" />
<rect x="950.31" y="399.64" width="32.19" height="21.21" fill="#a8cce0" stroke="none" stroke-width="0" />
<rect x="338.70" y="420.85" width="32.19" height="21.21" fill="#f7c888" stroke="none" stroke-width="0" />
<rect x="370.89" y="420.85" width="32.19" height="21.21" fill="#f7c888" stroke="none" stroke-width="0" />
<rect x="403.08" y="420.85" width="32.19" height="21.21" fill="#d6e9f1" stroke="none" stroke-width="0" />
<rect x="435.27" y="420.85" width="32.19" height="21.21" fill="#9dc4dc" stroke="none" stroke-width="0" />
<rect x="467.46" y="420.85" width="32.19" height="21.21" fill="#f7eeb0" stroke="none" stroke-width="0" />
<rect x="499.65" y="420.85" width="32.19" height="21.21" fill="#eff3d6" stroke="none" stroke-width="0" />
<rect x="531.84" y="420.85" width="32.19" height="21.21" fill="#c2dbe9" stroke="none" stroke-width="0" />
<rect x="564.03" y="420.85" width="32.19" height="21.21" fill="#a8cce0" stroke="none" stroke-width="0" />
<rect x="596.22" y="420.85" width="32.19" height="21.21" fill="#9dc4dc" stroke="none" stroke-width="0" />
<rect x="628.41" y="420.85" width="32.19" height="21.21" fill="#a8cce0" stroke="none" stroke-width="0" />
<rect x="660.60" y="420.85" width="32.19" height="21.21" fill="#9dc4dc" stroke="none" stroke-width="0" />
<rect x="692.79" y="420.85" width="32.19" height="21.21" fill="#8fb9d7" stroke="none" stroke-width="0" />
<rect x="724.98" y="420.85" width="32.19" height="21.21" fill="#8fb9d7" stroke="none" stroke-width="0" />
<rect x="757.17" y="420.85" width="32.19" height="21.21" fill="#8fb9d7" stroke="none" stroke-width="0" />
<rect x="789.36" y="420.85" width="32.19" height="21.21" fill="#8fb9d7" stroke="none" stroke-width="0" />
<rect x="821.55" y="420.85" width="32.19" height="21.21" fill="#8fb9d7" stroke="none" stroke-width="0" />
<rect x="853.74" y="420.85" width="32.19" height="21.21" fill="#a8cce0" stroke="none" stroke-width="0" />
<rect x="885.93" y="420.85" width="32.19" height="21.21" fill="#b5d4e6" stroke="none" stroke-width="0" />
<rect x="918.12" y="420.85" width="32.19" height="21.21" fill="#8fb9d7" stroke="none" stroke-width="0" />
<rect x="950.31" y="420.85" width="32.19" height="21.21" fill="#a8cce0" stroke="none" stroke-width="0" />
<rect x="338.70" y="442.07" width="32.19" height="21.21" fill="#f8df9c" stroke="none" stroke-width="0" />
<rect x="370.89" y="442.07" width="32.19" height="21.21" fill="#f7c888" stroke="none" stroke-width="0" />
<rect x="403.08" y="442.07" width="32.19" height="21.21" fill="#eff3d6" stroke="none" stroke-width="0" />
<rect x="435.27" y="442.07" width="32.19" height="21.21" fill="#c2dbe9" stroke="none" stroke-width="0" />
<rect x="467.46" y="442.07" width="32.19" height="21.21" fill="#9dc4dc" stroke="none" stroke-width="0" />
<rect x="499.65" y="442.07" width="32.19" height="21.21" fill="#f7eeb0" stroke="none" stroke-width="0" />
<rect x="531.84" y="442.07" width="32.19" height="21.21" fill="#eff3d6" stroke="none" stroke-width="0" />
<rect x="564.03" y="442.07" width="32.19" height="21.21" fill="#eff3d6" stroke="none" stroke-width="0" />
<rect x="596.22" y="442.07" width="32.19" height="21.21" fill="#c2dbe9" stroke="none" stroke-width="0" />
<rect x="628.41" y="442.07" width="32.19" height="21.21" fill="#8fb9d7" stroke="none" stroke-width="0" />
<rect x="660.60" y="442.07" width="32.19" height="21.21" fill="#8fb9d7" stroke="none" stroke-width="0" />
<rect x="692.79" y="442.07" width="32.19" height="21.21" fill="#d6e9f1" stroke="none" stroke-width="0" />
<rect x="724.98" y="442.07" width="32.19" height="21.21" fill="#c2dbe9" stroke="none" stroke-width="0" />
<rect x="757.17" y="442.07" width="32.19" height="21.21" fill="#8fb9d7" stroke="none" stroke-width="0" />
<rect x="789.36" y="442.07" width="32.19" height="21.21" fill="#8fb9d7" stroke="none" stroke-width="0" />
<rect x="821.55" y="442.07" width="32.19" height="21.21" fill="#74a0c8" stroke="none" stroke-width="0" />
<rect x="853.74" y="442.07" width="32.19" height="21.21" fill="#74a0c8" stroke="none" stroke-width="0" />
<rect x="885.93" y="442.07" width="32.19" height="21.21" fill="#74a0c8" stroke="none" stroke-width="0" />
<rect x="918.12" y="442.07" width="32.19" height="21.21" fill="#8fb9d7" stroke="none" stroke-width="0" />
<rect x="950.31" y="442.07" width="32.19" height="21.21" fill="#74a0c8" stroke="none" stroke-width="0" />
<rect x="338.70" y="463.28" width="32.19" height="21.21" fill="#f7eeb0" stroke="none" stroke-width="0" />
<rect x="370.89" y="463.28" width="32.19" height="21.21" fill="#d94a34" stroke="none" stroke-width="0" />
<rect x="403.08" y="463.28" width="32.19" height="21.21" fill="#a8cce0" stroke="none" stroke-width="0" />
<rect x="435.27" y="463.28" width="32.19" height="21.21" fill="#a8cce0" stroke="none" stroke-width="0" />
<rect x="467.46" y="463.28" width="32.19" height="21.21" fill="#9dc4dc" stroke="none" stroke-width="0" />
<rect x="499.65" y="463.28" width="32.19" height="21.21" fill="#a8cce0" stroke="none" stroke-width="0" />
<rect x="531.84" y="463.28" width="32.19" height="21.21" fill="#a8cce0" stroke="none" stroke-width="0" />
<rect x="564.03" y="463.28" width="32.19" height="21.21" fill="#eff3d6" stroke="none" stroke-width="0" />
<rect x="596.22" y="463.28" width="32.19" height="21.21" fill="#a8cce0" stroke="none" stroke-width="0" />
<rect x="628.41" y="463.28" width="32.19" height="21.21" fill="#a8cce0" stroke="none" stroke-width="0" />
<rect x="660.60" y="463.28" width="32.19" height="21.21" fill="#b5d4e6" stroke="none" stroke-width="0" />
<rect x="692.79" y="463.28" width="32.19" height="21.21" fill="#a8cce0" stroke="none" stroke-width="0" />
<rect x="724.98" y="463.28" width="32.19" height="21.21" fill="#a8cce0" stroke="none" stroke-width="0" />
<rect x="757.17" y="463.28" width="32.19" height="21.21" fill="#a8cce0" stroke="none" stroke-width="0" />
<rect x="789.36" y="463.28" width="32.19" height="21.21" fill="#a8cce0" stroke="none" stroke-width="0" />
<rect x="821.55" y="463.28" width="32.19" height="21.21" fill="#a8cce0" stroke="none" stroke-width="0" />
<rect x="853.74" y="463.28" width="32.19" height="21.21" fill="#a8cce0" stroke="none" stroke-width="0" />
<rect x="885.93" y="463.28" width="32.19" height="21.21" fill="#a8cce0" stroke="none" stroke-width="0" />
<rect x="918.12" y="463.28" width="32.19" height="21.21" fill="#b5d4e6" stroke="none" stroke-width="0" />
<rect x="950.31" y="463.28" width="32.19" height="21.21" fill="#b5d4e6" stroke="none" stroke-width="0" />
<line x1="338.70" y1="60.20" x2="982.50" y2="60.20" stroke="#999999" stroke-width="1.3" />
<line x1="338.70" y1="81.42" x2="982.50" y2="81.42" stroke="#999999" stroke-width="1.3" />
<line x1="338.70" y1="102.63" x2="982.50" y2="102.63" stroke="#999999" stroke-width="1.3" />
<line x1="338.70" y1="123.84" x2="982.50" y2="123.84" stroke="#999999" stroke-width="1.3" />
<line x1="338.70" y1="145.06" x2="982.50" y2="145.06" stroke="#999999" stroke-width="1.3" />
<line x1="338.70" y1="166.28" x2="982.50" y2="166.28" stroke="#999999" stroke-width="1.3" />
<line x1="338.70" y1="187.49" x2="982.50" y2="187.49" stroke="#999999" stroke-width="1.3" />
<line x1="338.70" y1="208.70" x2="982.50" y2="208.70" stroke="#999999" stroke-width="1.3" />
<line x1="338.70" y1="229.92" x2="982.50" y2="229.92" stroke="#999999" stroke-width="1.3" />
<line x1="338.70" y1="251.13" x2="982.50" y2="251.13" stroke="#999999" stroke-width="1.3" />
<line x1="338.70" y1="272.35" x2="982.50" y2="272.35" stroke="#999999" stroke-width="1.3" />
<line x1="338.70" y1="293.56" x2="982.50" y2="293.56" stroke="#999999" stroke-width="1.3" />
<line x1="338.70" y1="314.78" x2="982.50" y2="314.78" stroke="#999999" stroke-width="1.3" />
<line x1="338.70" y1="336.00" x2="982.50" y2="336.00" stroke="#999999" stroke-width="1.3" />
<line x1="338.70" y1="357.21" x2="982.50" y2="357.21" stroke="#999999" stroke-width="1.3" />
<line x1="338.70" y1="378.43" x2="982.50" y2="378.43" stroke="#999999" stroke-width="1.3" />
<line x1="338.70" y1="399.64" x2="982.50" y2="399.64" stroke="#999999" stroke-width="1.3" />
<line x1="338.70" y1="420.85" x2="982.50" y2="420.85" stroke="#999999" stroke-width="1.3" />
<line x1="338.70" y1="442.07" x2="982.50" y2="442.07" stroke="#999999" stroke-width="1.3" />
<line x1="338.70" y1="463.28" x2="982.50" y2="463.28" stroke="#999999" stroke-width="1.3" />
<line x1="338.70" y1="484.50" x2="982.50" y2="484.50" stroke="#999999" stroke-width="1.3" />
<line x1="338.70" y1="60.20" x2="338.70" y2="484.50" stroke="#999999" stroke-width="1.3" />
<line x1="370.89" y1="60.20" x2="370.89" y2="484.50" stroke="#999999" stroke-width="1.3" />
<line x1="403.08" y1="60.20" x2="403.08" y2="484.50" stroke="#999999" stroke-width="1.3" />
<line x1="435.27" y1="60.20" x2="435.27" y2="484.50" stroke="#999999" stroke-width="1.3" />
<line x1="467.46" y1="60.20" x2="467.46" y2="484.50" stroke="#999999" stroke-width="1.3" />
<line x1="499.65" y1="60.20" x2="499.65" y2="484.50" stroke="#999999" stroke-width="1.3" />
<line x1="531.84" y1="60.20" x2="531.84" y2="484.50" stroke="#999999" stroke-width="1.3" />
<line x1="564.03" y1="60.20" x2="564.03" y2="484.50" stroke="#999999" stroke-width="1.3" />
<line x1="596.22" y1="60.20" x2="596.22" y2="484.50" stroke="#999999" stroke-width="1.3" />
<line x1="628.41" y1="60.20" x2="628.41" y2="484.50" stroke="#999999" stroke-width="1.3" />
<line x1="660.60" y1="60.20" x2="660.60" y2="484.50" stroke="#999999" stroke-width="1.3" />
<line x1="692.79" y1="60.20" x2="692.79" y2="484.50" stroke="#999999" stroke-width="1.3" />
<line x1="724.98" y1="60.20" x2="724.98" y2="484.50" stroke="#999999" stroke-width="1.3" />
<line x1="757.17" y1="60.20" x2="757.17" y2="484.50" stroke="#999999" stroke-width="1.3" />
<line x1="789.36" y1="60.20" x2="789.36" y2="484.50" stroke="#999999" stroke-width="1.3" />
<line x1="821.55" y1="60.20" x2="821.55" y2="484.50" stroke="#999999" stroke-width="1.3" />
<line x1="853.74" y1="60.20" x2="853.74" y2="484.50" stroke="#999999" stroke-width="1.3" />
<line x1="885.93" y1="60.20" x2="885.93" y2="484.50" stroke="#999999" stroke-width="1.3" />
<line x1="918.12" y1="60.20" x2="918.12" y2="484.50" stroke="#999999" stroke-width="1.3" />
<line x1="950.31" y1="60.20" x2="950.31" y2="484.50" stroke="#999999" stroke-width="1.3" />
<line x1="982.50" y1="60.20" x2="982.50" y2="484.50" stroke="#999999" stroke-width="1.3" />
<text x="333.30" y="77.21" font-family="Liberation Sans" font-size="14.1" text-anchor="end" font-weight="normal" font-style="normal" fill="#000" >polyenoic fatty acid isomerase</text>
<text x="333.30" y="98.42" font-family="Liberation Sans" font-size="14.1" text-anchor="end" font-weight="normal" font-style="normal" fill="#000" >High affinity nerve growth factor receptor</text>
<text x="333.30" y="119.64" font-family="Liberation Sans" font-size="14.1" text-anchor="end" font-weight="normal" font-style="normal" fill="#000" >trimethyllysine dioxygenase, mitochondrial</text>
<text x="333.30" y="140.85" font-family="Liberation Sans" font-size="14.1" text-anchor="end" font-weight="normal" font-style="normal" fill="#000" >ornithine decarboxylase</text>
<text x="333.30" y="162.07" font-family="Liberation Sans" font-size="14.1" text-anchor="end" font-weight="normal" font-style="normal" fill="#000" >hemicentin−1−like</text>
<text x="333.30" y="183.28" font-family="Liberation Sans" font-size="14.1" text-anchor="end" font-weight="normal" font-style="normal" fill="#000" >acyl−CoA synthetase family member 2, mitochondrial</text>
<text x="333.30" y="204.50" font-family="Liberation Sans" font-size="14.1" text-anchor="end" font-weight="normal" font-style="normal" fill="#000" >multidrug resistance−associated protein 4</text>
<text x="333.30" y="225.71" font-family="Liberation Sans" font-size="14.1" text-anchor="end" font-weight="normal" font-style="normal" fill="#000" >high−affinity choline transporter 1</text>
<text x="333.30" y="246.93" font-family="Liberation Sans" font-size="14.1" text-anchor="end" font-weight="normal" font-style="normal" fill="#000" >integrator complex subunit 3</text>
<text x="333.30" y="268.14" font-family="Liberation Sans" font-size="14.1" text-anchor="end" font-weight="normal" font-style="normal" fill="#000" >mitochondrial carnitine/acylcarnitine carrier protein</text>
<text x="333.30" y="289.36" font-family="Liberation Sans" font-size="14.1" text-anchor="end" font-weight="normal" font-style="normal" fill="#000" >Paired box protein Pax−8</text>
<text x="333.30" y="310.57" font-family="Liberation Sans" font-size="14.1" text-anchor="end" font-weight="normal" font-style="normal" fill="#000" >Protein light−dependent short hypocotyls 6</text>
<text x="333.30" y="331.79" font-family="Liberation Sans" font-size="14.1" text-anchor="end" font-weight="normal" font-style="normal" fill="#000" >DNA ligase 1−like</text>
<text x="333.30" y="353.00" font-family="Liberation Sans" font-size="14.1" text-anchor="end" font-weight="normal" font-style="normal" fill="#000" >Sentrin−specific protease 3</text>
<text x="333.30" y="374.22" font-family="Liberation Sans" font-size="14.1" text-anchor="end" font-weight="normal" font-style="normal" fill="#000" >Mitochondrial dynamics protein MID51</text>
<text x="333.30" y="395.43" font-family="Liberation Sans" font-size="14.1" text-anchor="end" font-weight="normal" font-style="normal" fill="#000" >Paired box protein Pax−8−like</text>
<text x="333.30" y="416.65" font-family="Liberation Sans" font-size="14.1" text-anchor="end" font-weight="normal" font-style="normal" fill="#000" >protocadherin Fat 1−like</text>
<text x="333.30" y="437.86" font-family="Liberation Sans" font-size="14.1" text-anchor="end" font-weight="normal" font-style="normal" fill="#000" >ATP−dependent DNA helicase PIF1</text>
<text x="333.30" y="459.08" font-family="Liberation Sans" font-size="14.1" text-anchor="end" font-weight="normal" font-style="normal" fill="#000" >Sentrin−specific protease 2</text>
<text x="333.30" y="480.29" font-family="Liberation Sans" font-size="14.1" text-anchor="end" font-weight="normal" font-style="normal" fill="#000" >Gypsy retrotransposon integrase−like protein 1</text>
<text font-family="Liberation Sans" font-size="13.8" text-anchor="end" fill="#000" transform="translate(356.79,498.00) rotate(-49)">alv</text>
<text font-family="Liberation Sans" font-size="13.8" text-anchor="end" fill="#000" transform="translate(389.31,498.00) rotate(-49)">psp</text>
<text font-family="Liberation Sans" font-size="13.8" text-anchor="end" fill="#000" transform="translate(421.81,498.00) rotate(-49)">plu</text>
<text font-family="Liberation Sans" font-size="13.8" text-anchor="end" fill="#000" transform="translate(454.32,498.00) rotate(-49)">gfa</text>
<text font-family="Liberation Sans" font-size="13.8" text-anchor="end" fill="#000" transform="translate(486.83,498.00) rotate(-49)">fsp</text>
<text font-family="Liberation Sans" font-size="13.8" text-anchor="end" fill="#000" transform="translate(519.35,498.00) rotate(-49)">gas</text>
<text font-family="Liberation Sans" font-size="13.8" text-anchor="end" fill="#000" transform="translate(551.85,498.00) rotate(-49)">adi</text>
<text font-family="Liberation Sans" font-size="13.8" text-anchor="end" fill="#000" transform="translate(584.37,498.00) rotate(-49)">dli</text>
<text font-family="Liberation Sans" font-size="13.8" text-anchor="end" fill="#000" transform="translate(616.88,498.00) rotate(-49)">nve</text>
<text font-family="Liberation Sans" font-size="13.8" text-anchor="end" fill="#000" transform="translate(649.38,498.00) rotate(-49)">epa</text>
<text font-family="Liberation Sans" font-size="13.8" text-anchor="end" fill="#000" transform="translate(681.89,498.00) rotate(-49)">sca</text>
<text font-family="Liberation Sans" font-size="13.8" text-anchor="end" fill="#000" transform="translate(714.40,498.00) rotate(-49)">xsp</text>
<text font-family="Liberation Sans" font-size="13.8" text-anchor="end" fill="#000" transform="translate(746.92,498.00) rotate(-49)">rmu</text>
<text font-family="Liberation Sans" font-size="13.8" text-anchor="end" fill="#000" transform="translate(779.42,498.00) rotate(-49)">hvu</text>
<text font-family="Liberation Sans" font-size="13.8" text-anchor="end" fill="#000" transform="translate(811.93,498.00) rotate(-49)">ate</text>
<text font-family="Liberation Sans" font-size="13.8" text-anchor="end" fill="#000" transform="translate(844.44,498.00) rotate(-49)">pda</text>
<text font-family="Liberation Sans" font-size="13.8" text-anchor="end" fill="#000" transform="translate(876.96,498.00) rotate(-49)">ofa</text>
<text font-family="Liberation Sans" font-size="13.8" text-anchor="end" fill="#000" transform="translate(909.46,498.00) rotate(-49)">dgi</text>
<text font-family="Liberation Sans" font-size="13.8" text-anchor="end" fill="#000" transform="translate(941.97,498.00) rotate(-49)">spi</text>
<text font-family="Liberation Sans" font-size="13.8" text-anchor="end" fill="#000" transform="translate(974.49,498.00) rotate(-49)">att</text>
<path d="M354.79 46.20L386.99 46.20 M354.79 46.20L354.79 60.20 M386.99 46.20L386.99 60.20 M419.17 57.50L451.37 57.50 M419.17 57.50L419.17 60.20 M451.37 57.50L451.37 60.20 M435.27 54.40L483.55 54.40 M435.27 54.40L435.27 57.50 M483.55 54.40L483.55 60.20 M459.41 51.80L515.75 51.80 M459.41 51.80L459.41 54.40 M515.75 51.80L515.75 60.20 M487.58 50.20L547.93 50.20 M487.58 50.20L487.58 51.80 M547.93 50.20L547.93 60.20 M517.76 48.30L580.12 48.30 M517.76 48.30L517.76 50.20 M580.12 48.30L580.12 60.20 M612.32 55.80L644.50 55.80 M612.32 55.80L612.32 60.20 M644.50 55.80L644.50 60.20 M628.41 53.70L676.69 53.70 M628.41 53.70L628.41 55.80 M676.69 53.70L676.69 60.20 M741.08 58.30L773.26 58.30 M741.08 58.30L741.08 60.20 M773.26 58.30L773.26 60.20 M708.88 57.60L757.17 57.60 M708.88 57.60L708.88 60.20 M757.17 57.60L757.17 58.30 M733.03 55.80L805.45 55.80 M733.03 55.80L733.03 57.60 M805.45 55.80L805.45 60.20 M837.64 59.00L869.84 59.00 M837.64 59.00L837.64 60.20 M869.84 59.00L869.84 60.20 M853.74 57.00L902.02 57.00 M853.74 57.00L853.74 59.00 M902.02 57.00L902.02 60.20 M877.88 56.20L934.21 56.20 M877.88 56.20L877.88 57.00 M934.21 56.20L934.21 60.20 M769.24 55.50L906.05 55.50 M769.24 55.50L769.24 55.80 M906.05 55.50L906.05 56.20 M837.64 54.90L966.40 54.90 M837.64 54.90L837.64 55.50 M966.40 54.90L966.40 60.20 M652.55 51.30L902.02 51.30 M652.55 51.30L652.55 53.70 M902.02 51.30L902.02 54.90 M548.94 47.60L777.29 47.60 M548.94 47.60L548.94 48.30 M777.29 47.60L777.29 51.30 M370.89 28.20L663.11 28.20 M370.89 28.20L370.89 46.20 M663.11 28.20L663.11 47.60" stroke="#000" stroke-width="1.5" fill="none" stroke-linecap="square"/>
<text x="11.70" y="599.50" font-family="Liberation Serif" font-size="34" text-anchor="start" font-weight="normal" font-style="normal" fill="#1a1512" >b</text>
<rect x="319.50" y="615.90" width="186.30" height="176.20" fill="#ffffff" stroke="none" stroke-width="0" />
<line x1="323.20" y1="615.90" x2="323.20" y2="792.10" stroke="#ebebeb" stroke-width="1.1" />
<line x1="355.55" y1="615.90" x2="355.55" y2="792.10" stroke="#ebebeb" stroke-width="0.6" />
<line x1="387.90" y1="615.90" x2="387.90" y2="792.10" stroke="#ebebeb" stroke-width="1.1" />
<line x1="420.25" y1="615.90" x2="420.25" y2="792.10" stroke="#ebebeb" stroke-width="0.6" />
<line x1="452.60" y1="615.90" x2="452.60" y2="792.10" stroke="#ebebeb" stroke-width="1.1" />
<line x1="484.95" y1="615.90" x2="484.95" y2="792.10" stroke="#ebebeb" stroke-width="0.6" />
<line x1="319.50" y1="630.00" x2="505.80" y2="630.00" stroke="#ebebeb" stroke-width="1.1" />
<line x1="315.50" y1="630.00" x2="319.50" y2="630.00" stroke="#333333" stroke-width="1.1" />
<text x="313.50" y="634.20" font-family="Liberation Sans" font-size="15.6" text-anchor="end" font-weight="normal" font-style="normal" fill="#1a1a1a" >telomere maintenance</text>
<line x1="319.50" y1="654.70" x2="505.80" y2="654.70" stroke="#ebebeb" stroke-width="1.1" />
<line x1="315.50" y1="654.70" x2="319.50" y2="654.70" stroke="#333333" stroke-width="1.1" />
<text x="313.50" y="658.90" font-family="Liberation Sans" font-size="15.6" text-anchor="end" font-weight="normal" font-style="normal" fill="#1a1a1a" >DNA repair</text>
<line x1="319.50" y1="679.30" x2="505.80" y2="679.30" stroke="#ebebeb" stroke-width="1.1" />
<line x1="315.50" y1="679.30" x2="319.50" y2="679.30" stroke="#333333" stroke-width="1.1" />
<text x="313.50" y="683.50" font-family="Liberation Sans" font-size="15.6" text-anchor="end" font-weight="normal" font-style="normal" fill="#1a1a1a" >regulation of transcription, DNA−templated</text>
<line x1="319.50" y1="704.00" x2="505.80" y2="704.00" stroke="#ebebeb" stroke-width="1.1" />
<line x1="315.50" y1="704.00" x2="319.50" y2="704.00" stroke="#333333" stroke-width="1.1" />
<text x="313.50" y="708.20" font-family="Liberation Sans" font-size="15.6" text-anchor="end" font-weight="normal" font-style="normal" fill="#1a1a1a" >oxidation−reduction process</text>
<line x1="319.50" y1="728.70" x2="505.80" y2="728.70" stroke="#ebebeb" stroke-width="1.1" />
<line x1="315.50" y1="728.70" x2="319.50" y2="728.70" stroke="#333333" stroke-width="1.1" />
<text x="313.50" y="732.90" font-family="Liberation Sans" font-size="15.6" text-anchor="end" font-weight="normal" font-style="normal" fill="#1a1a1a" >proteolysis</text>
<line x1="319.50" y1="753.30" x2="505.80" y2="753.30" stroke="#ebebeb" stroke-width="1.1" />
<line x1="315.50" y1="753.30" x2="319.50" y2="753.30" stroke="#333333" stroke-width="1.1" />
<text x="313.50" y="757.50" font-family="Liberation Sans" font-size="15.6" text-anchor="end" font-weight="normal" font-style="normal" fill="#1a1a1a" >DNA integration</text>
<line x1="319.50" y1="777.70" x2="505.80" y2="777.70" stroke="#ebebeb" stroke-width="1.1" />
<line x1="315.50" y1="777.70" x2="319.50" y2="777.70" stroke="#333333" stroke-width="1.1" />
<text x="313.50" y="781.90" font-family="Liberation Sans" font-size="15.6" text-anchor="end" font-weight="normal" font-style="normal" fill="#1a1a1a" >DNA recombination</text>
<rect x="319.50" y="615.90" width="186.30" height="176.20" fill="none" stroke="#333333" stroke-width="1.3" />
<rect x="505.80" y="615.90" width="13.90" height="176.20" fill="#d9d9d9" stroke="#333333" stroke-width="1.3" />
<text font-family="Liberation Sans" font-size="13" text-anchor="middle" fill="#1a1a1a" transform="translate(508.15,704.00) rotate(90)">BP</text>
<rect x="319.50" y="798.20" width="186.30" height="28.40" fill="#ffffff" stroke="none" stroke-width="0" />
<line x1="323.20" y1="798.20" x2="323.20" y2="826.60" stroke="#ebebeb" stroke-width="1.1" />
<line x1="355.55" y1="798.20" x2="355.55" y2="826.60" stroke="#ebebeb" stroke-width="0.6" />
<line x1="387.90" y1="798.20" x2="387.90" y2="826.60" stroke="#ebebeb" stroke-width="1.1" />
<line x1="420.25" y1="798.20" x2="420.25" y2="826.60" stroke="#ebebeb" stroke-width="0.6" />
<line x1="452.60" y1="798.20" x2="452.60" y2="826.60" stroke="#ebebeb" stroke-width="1.1" />
<line x1="484.95" y1="798.20" x2="484.95" y2="826.60" stroke="#ebebeb" stroke-width="0.6" />
<line x1="319.50" y1="812.20" x2="505.80" y2="812.20" stroke="#ebebeb" stroke-width="1.1" />
<line x1="315.50" y1="812.20" x2="319.50" y2="812.20" stroke="#333333" stroke-width="1.1" />
<text x="313.50" y="816.40" font-family="Liberation Sans" font-size="15.6" text-anchor="end" font-weight="normal" font-style="normal" fill="#1a1a1a" >integral component of membrane</text>
<rect x="319.50" y="798.20" width="186.30" height="28.40" fill="none" stroke="#333333" stroke-width="1.3" />
<rect x="505.80" y="798.20" width="13.90" height="28.40" fill="#d9d9d9" stroke="#333333" stroke-width="1.3" />
<text font-family="Liberation Sans" font-size="13" text-anchor="middle" fill="#1a1a1a" transform="translate(508.15,812.40) rotate(90)">CC</text>
<rect x="319.50" y="832.30" width="186.30" height="151.30" fill="#ffffff" stroke="none" stroke-width="0" />
<line x1="323.20" y1="832.30" x2="323.20" y2="983.60" stroke="#ebebeb" stroke-width="1.1" />
<line x1="355.55" y1="832.30" x2="355.55" y2="983.60" stroke="#ebebeb" stroke-width="0.6" />
<line x1="387.90" y1="832.30" x2="387.90" y2="983.60" stroke="#ebebeb" stroke-width="1.1" />
<line x1="420.25" y1="832.30" x2="420.25" y2="983.60" stroke="#ebebeb" stroke-width="0.6" />
<line x1="452.60" y1="832.30" x2="452.60" y2="983.60" stroke="#ebebeb" stroke-width="1.1" />
<line x1="484.95" y1="832.30" x2="484.95" y2="983.60" stroke="#ebebeb" stroke-width="0.6" />
<line x1="319.50" y1="846.40" x2="505.80" y2="846.40" stroke="#ebebeb" stroke-width="1.1" />
<line x1="315.50" y1="846.40" x2="319.50" y2="846.40" stroke="#333333" stroke-width="1.1" />
<text x="313.50" y="850.60" font-family="Liberation Sans" font-size="15.6" text-anchor="end" font-weight="normal" font-style="normal" fill="#1a1a1a" >DNA binding</text>
<line x1="319.50" y1="871.00" x2="505.80" y2="871.00" stroke="#ebebeb" stroke-width="1.1" />
<line x1="315.50" y1="871.00" x2="319.50" y2="871.00" stroke="#333333" stroke-width="1.1" />
<text x="313.50" y="875.20" font-family="Liberation Sans" font-size="15.6" text-anchor="end" font-weight="normal" font-style="normal" fill="#1a1a1a" >DNA helicase activity</text>
<line x1="319.50" y1="895.70" x2="505.80" y2="895.70" stroke="#ebebeb" stroke-width="1.1" />
<line x1="315.50" y1="895.70" x2="319.50" y2="895.70" stroke="#333333" stroke-width="1.1" />
<text x="313.50" y="899.90" font-family="Liberation Sans" font-size="15.6" text-anchor="end" font-weight="normal" font-style="normal" fill="#1a1a1a" >oxidoreductase activity</text>
<line x1="319.50" y1="920.10" x2="505.80" y2="920.10" stroke="#ebebeb" stroke-width="1.1" />
<line x1="315.50" y1="920.10" x2="319.50" y2="920.10" stroke="#333333" stroke-width="1.1" />
<text x="313.50" y="924.30" font-family="Liberation Sans" font-size="15.6" text-anchor="end" font-weight="normal" font-style="normal" fill="#1a1a1a" >cysteine−type peptidase activity</text>
<line x1="319.50" y1="945.00" x2="505.80" y2="945.00" stroke="#ebebeb" stroke-width="1.1" />
<line x1="315.50" y1="945.00" x2="319.50" y2="945.00" stroke="#333333" stroke-width="1.1" />
<text x="313.50" y="949.20" font-family="Liberation Sans" font-size="15.6" text-anchor="end" font-weight="normal" font-style="normal" fill="#1a1a1a" >catalytic activity</text>
<line x1="319.50" y1="969.40" x2="505.80" y2="969.40" stroke="#ebebeb" stroke-width="1.1" />
<line x1="315.50" y1="969.40" x2="319.50" y2="969.40" stroke="#333333" stroke-width="1.1" />
<text x="313.50" y="973.60" font-family="Liberation Sans" font-size="15.6" text-anchor="end" font-weight="normal" font-style="normal" fill="#1a1a1a" >scavenger receptor activity</text>
<rect x="319.50" y="832.30" width="186.30" height="151.30" fill="none" stroke="#333333" stroke-width="1.3" />
<rect x="505.80" y="832.30" width="13.90" height="151.30" fill="#d9d9d9" stroke="#333333" stroke-width="1.3" />
<text font-family="Liberation Sans" font-size="13" text-anchor="middle" fill="#1a1a1a" transform="translate(508.15,907.95) rotate(90)">MF</text>
<circle cx="428.70" cy="630.00" r="5.40" fill="#c8392b" />
<circle cx="428.70" cy="654.70" r="5.40" fill="#a35a6b" />
<circle cx="419.10" cy="679.30" r="5.30" fill="#6a649c" />
<circle cx="419.10" cy="704.00" r="5.40" fill="#3f6aab" />
<circle cx="401.00" cy="728.70" r="5.00" fill="#3d6aa9" />
<circle cx="401.00" cy="753.30" r="5.00" fill="#4a66a2" />
<circle cx="396.40" cy="777.70" r="4.90" fill="#655f9a" />
<circle cx="327.60" cy="812.20" r="2.60" fill="#3a6aaa" />
<circle cx="496.80" cy="846.40" r="5.90" fill="#6a5a92" />
<circle cx="428.70" cy="871.00" r="5.40" fill="#c43a2e" />
<circle cx="419.10" cy="895.70" r="5.30" fill="#62639c" />
<circle cx="400.80" cy="920.10" r="5.00" fill="#a05565" />
<circle cx="391.60" cy="945.00" r="5.00" fill="#3a6aaa" />
<circle cx="359.60" cy="969.40" r="4.40" fill="#4764a3" />
<line x1="323.20" y1="983.60" x2="323.20" y2="987.50" stroke="#333333" stroke-width="1.1" />
<text x="323.20" y="998.00" font-family="Liberation Sans" font-size="11.5" text-anchor="middle" font-weight="normal" font-style="normal" fill="#1a1a1a" >0.0</text>
<line x1="387.90" y1="983.60" x2="387.90" y2="987.50" stroke="#333333" stroke-width="1.1" />
<text x="387.90" y="998.00" font-family="Liberation Sans" font-size="11.5" text-anchor="middle" font-weight="normal" font-style="normal" fill="#1a1a1a" >0.1</text>
<line x1="452.60" y1="983.60" x2="452.60" y2="987.50" stroke="#333333" stroke-width="1.1" />
<text x="452.60" y="998.00" font-family="Liberation Sans" font-size="11.5" text-anchor="middle" font-weight="normal" font-style="normal" fill="#1a1a1a" >0.2</text>
<text x="28.00" y="755.50" font-family="Liberation Sans" font-size="11" text-anchor="start" font-weight="normal" font-style="normal" fill="#1a1a1a" >−log10(pvalue)</text>
<rect x="27.70" y="762.10" width="13.50" height="68.50" fill="url(#pv)" stroke="none" stroke-width="0" />
<line x1="38.20" y1="765.80" x2="41.20" y2="765.80" stroke="#f0f0f0" stroke-width="0.9" />
<text x="47.00" y="768.60" font-family="Liberation Sans" font-size="7.6" text-anchor="start" font-weight="normal" font-style="normal" fill="#1a1a1a" >100</text>
<line x1="38.20" y1="782.60" x2="41.20" y2="782.60" stroke="#f0f0f0" stroke-width="0.9" />
<text x="47.00" y="785.40" font-family="Liberation Sans" font-size="7.6" text-anchor="start" font-weight="normal" font-style="normal" fill="#1a1a1a" >75</text>
<line x1="38.20" y1="799.20" x2="41.20" y2="799.20" stroke="#f0f0f0" stroke-width="0.9" />
<text x="47.00" y="802.00" font-family="Liberation Sans" font-size="7.6" text-anchor="start" font-weight="normal" font-style="normal" fill="#1a1a1a" >50</text>
<line x1="38.20" y1="815.80" x2="41.20" y2="815.80" stroke="#f0f0f0" stroke-width="0.9" />
<text x="47.00" y="818.60" font-family="Liberation Sans" font-size="7.6" text-anchor="start" font-weight="normal" font-style="normal" fill="#1a1a1a" >25</text>
<text x="28.00" y="867.30" font-family="Liberation Sans" font-size="11" text-anchor="start" font-weight="normal" font-style="normal" fill="#1a1a1a" >count</text>
<circle cx="34.40" cy="880.90" r="4.40" fill="#000" />
<text x="47.00" y="883.70" font-family="Liberation Sans" font-size="7.6" text-anchor="start" font-weight="normal" font-style="normal" fill="#1a1a1a" >10</text>
<circle cx="34.40" cy="894.30" r="5.00" fill="#000" />
<text x="47.00" y="897.10" font-family="Liberation Sans" font-size="7.6" text-anchor="start" font-weight="normal" font-style="normal" fill="#1a1a1a" >20</text>
<circle cx="34.40" cy="908.30" r="5.50" fill="#000" />
<text x="47.00" y="911.10" font-family="Liberation Sans" font-size="7.6" text-anchor="start" font-weight="normal" font-style="normal" fill="#1a1a1a" >30</text>
<text x="10.70" y="1050.00" font-family="Liberation Serif" font-size="35" text-anchor="start" font-weight="normal" font-style="normal" fill="#1a1512" >c</text>
<line x1="80.90" y1="1061.90" x2="80.90" y2="1287.80" stroke="#222" stroke-width="1.6" />
<line x1="80.10" y1="1287.00" x2="239.50" y2="1287.00" stroke="#222" stroke-width="1.6" />
<line x1="78.60" y1="1287.00" x2="80.90" y2="1287.00" stroke="#222" stroke-width="1.4" />
<text x="77.30" y="1292.40" font-family="Liberation Sans" font-size="14.7" text-anchor="end" font-weight="normal" font-style="normal" fill="#2a2a2a" >0</text>
<line x1="78.60" y1="1251.93" x2="80.90" y2="1251.93" stroke="#222" stroke-width="1.4" />
<text x="77.30" y="1257.33" font-family="Liberation Sans" font-size="14.7" text-anchor="end" font-weight="normal" font-style="normal" fill="#2a2a2a" >5</text>
<line x1="78.60" y1="1216.86" x2="80.90" y2="1216.86" stroke="#222" stroke-width="1.4" />
<text x="77.30" y="1222.26" font-family="Liberation Sans" font-size="14.7" text-anchor="end" font-weight="normal" font-style="normal" fill="#2a2a2a" >10</text>
<line x1="78.60" y1="1181.79" x2="80.90" y2="1181.79" stroke="#222" stroke-width="1.4" />
<text x="77.30" y="1187.19" font-family="Liberation Sans" font-size="14.7" text-anchor="end" font-weight="normal" font-style="normal" fill="#2a2a2a" >15</text>
<line x1="78.60" y1="1146.72" x2="80.90" y2="1146.72" stroke="#222" stroke-width="1.4" />
<text x="77.30" y="1152.12" font-family="Liberation Sans" font-size="14.7" text-anchor="end" font-weight="normal" font-style="normal" fill="#2a2a2a" >20</text>
<line x1="78.60" y1="1111.65" x2="80.90" y2="1111.65" stroke="#222" stroke-width="1.4" />
<text x="77.30" y="1117.05" font-family="Liberation Sans" font-size="14.7" text-anchor="end" font-weight="normal" font-style="normal" fill="#2a2a2a" >25</text>
<line x1="78.60" y1="1076.58" x2="80.90" y2="1076.58" stroke="#222" stroke-width="1.4" />
<text x="77.30" y="1081.98" font-family="Liberation Sans" font-size="14.7" text-anchor="end" font-weight="normal" font-style="normal" fill="#2a2a2a" >30</text>
<rect x="120.50" y="1107.30" width="29.80" height="179.70" fill="#b35c46" stroke="#000" stroke-width="2" />
<rect x="191.70" y="1217.90" width="29.20" height="69.10" fill="#a8bacb" stroke="#000" stroke-width="2" />
<line x1="136.00" y1="1072.60" x2="136.00" y2="1107.30" stroke="#000" stroke-width="1.5" />
<line x1="132.00" y1="1072.60" x2="140.00" y2="1072.60" stroke="#000" stroke-width="1.5" />
<line x1="206.90" y1="1199.50" x2="206.90" y2="1217.90" stroke="#000" stroke-width="1.5" />
<line x1="202.90" y1="1199.50" x2="210.90" y2="1199.50" stroke="#000" stroke-width="1.5" />
<path d="M135.2 1065.8 L135.2 1057.9 L207.5 1057.9 L207.5 1191" fill="none" stroke="#000" stroke-width="1.8"/>
<text x="170.90" y="1052.30" font-family="Liberation Sans" font-size="12.5" text-anchor="middle" font-weight="normal" font-style="normal" fill="#111" >p=0.01</text>
<text x="126.60" y="1307.30" font-family="Liberation Sans" font-size="12.5" text-anchor="middle" font-weight="normal" font-style="italic" fill="#111" >A. idsseensis</text>
<text x="225.8" y="1307.3" font-family="Liberation Sans" font-size="12.5" text-anchor="middle" fill="#111"><tspan font-style="italic">Phlyctenanthus</tspan> sp.</text>
<text font-family="Liberation Sans" font-size="14.2" text-anchor="middle" fill="#111" transform="translate(52.3,1174.8) rotate(-90)">Total lipid content (wt %)</text>
<text x="266.50" y="1051.00" font-family="Liberation Serif" font-size="35" text-anchor="start" font-weight="normal" font-style="normal" fill="#1a1512" >d</text>
<line x1="335.50" y1="1061.90" x2="335.50" y2="1288.80" stroke="#2a2a2a" stroke-width="1.7" />
<line x1="334.60" y1="1288.00" x2="531.60" y2="1288.00" stroke="#2a2a2a" stroke-width="1.7" />
<text x="332.60" y="1290.90" font-family="Liberation Sans" font-size="11.6" text-anchor="end" font-weight="normal" font-style="normal" fill="#4a4a4a" >0</text>
<text x="332.60" y="1226.20" font-family="Liberation Sans" font-size="11.6" text-anchor="end" font-weight="normal" font-style="normal" fill="#4a4a4a" >20</text>
<text x="332.60" y="1161.50" font-family="Liberation Sans" font-size="11.6" text-anchor="end" font-weight="normal" font-style="normal" fill="#4a4a4a" >40</text>
<text x="332.60" y="1096.80" font-family="Liberation Sans" font-size="11.6" text-anchor="end" font-weight="normal" font-style="normal" fill="#4a4a4a" >60</text>
<rect x="348.60" y="1247.50" width="21.80" height="40.50" fill="#b35c46" stroke="#000" stroke-width="2" />
<rect x="372.40" y="1148.30" width="23.30" height="139.70" fill="#a8bacb" stroke="#000" stroke-width="2" />
<rect x="409.90" y="1197.10" width="22.10" height="90.90" fill="#b35c46" stroke="#000" stroke-width="2" />
<rect x="434.00" y="1194.10" width="23.40" height="93.90" fill="#a8bacb" stroke="#000" stroke-width="2" />
<rect x="471.60" y="1112.30" width="22.40" height="175.70" fill="#b35c46" stroke="#000" stroke-width="2" />
<rect x="496.00" y="1213.60" width="22.40" height="74.40" fill="#a8bacb" stroke="#000" stroke-width="2" />
<line x1="359.50" y1="1239.50" x2="359.50" y2="1254.10" stroke="#000" stroke-width="2" />
<line x1="356.30" y1="1239.50" x2="362.70" y2="1239.50" stroke="#000" stroke-width="2" />
<line x1="356.30" y1="1254.10" x2="362.70" y2="1254.10" stroke="#000" stroke-width="2" />
<line x1="384.20" y1="1129.90" x2="384.20" y2="1165.60" stroke="#000" stroke-width="2" />
<line x1="381.00" y1="1129.90" x2="387.40" y2="1129.90" stroke="#000" stroke-width="2" />
<line x1="381.00" y1="1165.60" x2="387.40" y2="1165.60" stroke="#000" stroke-width="2" />
<line x1="420.80" y1="1175.70" x2="420.80" y2="1216.90" stroke="#000" stroke-width="2" />
<line x1="417.60" y1="1175.70" x2="424.00" y2="1175.70" stroke="#000" stroke-width="2" />
<line x1="417.60" y1="1216.90" x2="424.00" y2="1216.90" stroke="#000" stroke-width="2" />
<line x1="445.20" y1="1183.30" x2="445.20" y2="1203.80" stroke="#000" stroke-width="2" />
<line x1="442.00" y1="1183.30" x2="448.40" y2="1183.30" stroke="#000" stroke-width="2" />
<line x1="442.00" y1="1203.80" x2="448.40" y2="1203.80" stroke="#000" stroke-width="2" />
<line x1="482.80" y1="1097.00" x2="482.80" y2="1126.00" stroke="#000" stroke-width="2" />
<line x1="479.60" y1="1097.00" x2="486.00" y2="1097.00" stroke="#000" stroke-width="2" />
<line x1="479.60" y1="1126.00" x2="486.00" y2="1126.00" stroke="#000" stroke-width="2" />
<line x1="507.20" y1="1205.90" x2="507.20" y2="1220.60" stroke="#000" stroke-width="2" />
<line x1="504.00" y1="1205.90" x2="510.40" y2="1205.90" stroke="#000" stroke-width="2" />
<line x1="504.00" y1="1220.60" x2="510.40" y2="1220.60" stroke="#000" stroke-width="2" />
<path d="M359.5 1222 L359.5 1117.4 L385.1 1117.4 L385.1 1121.4" fill="none" stroke="#000" stroke-width="2"/>
<path d="M420.8 1159.5 L420.8 1154 L445.2 1154 L445.2 1159.5" fill="none" stroke="#000" stroke-width="2"/>
<path d="M482.8 1087.2 L482.8 1080.8 L506.6 1080.8 L506.6 1185.5" fill="none" stroke="#000" stroke-width="2"/>
<text x="373.50" y="1110.50" font-family="Liberation Sans" font-size="12.5" text-anchor="middle" font-weight="normal" font-style="normal" fill="#111" >p=0.006</text>
<text x="435.50" y="1150.80" font-family="Liberation Sans" font-size="12.5" text-anchor="middle" font-weight="normal" font-style="normal" fill="#111" >NS</text>
<text x="498.00" y="1072.40" font-family="Liberation Sans" font-size="12.5" text-anchor="middle" font-weight="normal" font-style="normal" fill="#111" >p=0.003</text>
<text x="369.90" y="1306.50" font-family="Liberation Sans" font-size="12.5" text-anchor="middle" font-weight="normal" font-style="normal" fill="#111" >SFA</text>
<text x="434.50" y="1306.50" font-family="Liberation Sans" font-size="12.5" text-anchor="middle" font-weight="normal" font-style="normal" fill="#111" >MUFA</text>
<text x="495.00" y="1306.50" font-family="Liberation Sans" font-size="12.5" text-anchor="middle" font-weight="normal" font-style="normal" fill="#111" >PUFA</text>
<text font-family="Liberation Sans" font-size="14.3" text-anchor="middle" fill="#111" transform="translate(309.2,1171.0) rotate(-90)">Percentage of Total FA</text>
<text x="551.00" y="577.00" font-family="Liberation Serif" font-size="35" text-anchor="start" font-weight="normal" font-style="normal" fill="#1a1512" >e</text>
<defs>
<radialGradient id="gblue" cx="0.5" cy="0.5" r="0.5"><stop offset="0" stop-color="#5384a2"/><stop offset="0.55" stop-color="#7fa2b8"/><stop offset="1" stop-color="#d8e3ea"/></radialGradient>
<radialGradient id="gred" cx="0.5" cy="0.45" r="0.55"><stop offset="0" stop-color="#b5533b"/><stop offset="0.6" stop-color="#bf6b55"/><stop offset="1" stop-color="#dcaa9c"/></radialGradient>
<radialGradient id="ggray" cx="0.5" cy="0.5" r="0.55"><stop offset="0" stop-color="#adadad"/><stop offset="0.6" stop-color="#b9b9b9"/><stop offset="1" stop-color="#dadada"/></radialGradient>
<radialGradient id="gball" cx="0.45" cy="0.4" r="0.6" fx="0.45" fy="0.38"><stop offset="0" stop-color="#fbf6f7"/><stop offset="0.45" stop-color="#cfb7ba"/><stop offset="1" stop-color="#9c8085"/></radialGradient>
</defs>
<text x="734.60" y="600.30" font-family="Liberation Sans" font-size="15" text-anchor="middle" font-weight="bold" font-style="normal" fill="#1a1a1a" >Propionate</text>
<text x="732.10" y="693.10" font-family="Liberation Sans" font-size="15" text-anchor="middle" font-weight="bold" font-style="normal" fill="#1a1a1a" >Acetyl-CoA</text>
<text x="735.80" y="772.30" font-family="Liberation Sans" font-size="15" text-anchor="middle" font-weight="bold" font-style="normal" fill="#1a1a1a" >Fatty acid</text>
<line x1="735.8" y1="607.8" x2="735.8" y2="654.8" stroke="#1a1a1a" stroke-width="2.0" />
<path d="M735.8 666.8 L729.0 650.8 L735.8 654.3 L742.5999999999999 650.8 Z" fill="#1a1a1a"/>
<line x1="736.0" y1="698.3" x2="736.0" y2="744.3" stroke="#1a1a1a" stroke-width="2.0" />
<path d="M736.0 756.3 L729.2 740.3 L736.0 743.8 L742.8 740.3 Z" fill="#1a1a1a"/>
<line x1="736.0" y1="780.7" x2="736.0" y2="825.2" stroke="#1a1a1a" stroke-width="2.0" />
<path d="M736.0 837.2 L729.2 821.2 L736.0 824.7 L742.8 821.2 Z" fill="#1a1a1a"/>
<line x1="735.8" y1="888.0" x2="735.8" y2="934.0" stroke="#1a1a1a" stroke-width="2.0" />
<path d="M735.8 946.0 L729.0 930.0 L735.8 933.5 L742.5999999999999 930.0 Z" fill="#1a1a1a"/>
<line x1="736.0" y1="997.7" x2="736.0" y2="1031.7" stroke="#1a1a1a" stroke-width="2.0" stroke-dasharray="3.3 3.6"/>
<path d="M736.0 1043.7 L729.2 1027.7 L736.0 1031.2 L742.8 1027.7 Z" fill="#1a1a1a"/>
<line x1="737.1" y1="1178.0" x2="737.1" y2="1126.0" stroke="#1a1a1a" stroke-width="2.0" stroke-dasharray="3.3 3.6"/>
<path d="M737.1 1114.0 L730.3000000000001 1130.0 L737.1 1126.5 L743.9 1130.0 Z" fill="#1a1a1a"/>
<line x1="737.0" y1="1262.7" x2="737.0" y2="1211.0" stroke="#1a1a1a" stroke-width="2.0" />
<path d="M737.0 1199.0 L730.2 1215.0 L737.0 1211.5 L743.8 1215.0 Z" fill="#1a1a1a"/>
<ellipse cx="689.5" cy="635.1" rx="34.6" ry="13.2" fill="url(#gblue)"/>
<text x="688.30" y="640.20" font-family="Liberation Serif" font-size="18.5" text-anchor="middle" font-weight="normal" font-style="italic" fill="#ffffff" >acss3</text>
<path d="M636.2 715.5 C635 704 641 693 658.6 691.1 C672 690 690 697 706.4 711.4 C714 718 720 726 717.6 732 C714 739 700 740 686 739.9 C670 739.5 655 737 645 732 C638 728 636.5 722 636.2 715.5 Z" fill="url(#gred)"/>
<text x="672.80" y="722.60" font-family="Liberation Serif" font-size="23" text-anchor="middle" font-weight="normal" font-style="italic" fill="#ffffff" >fasn</text>
<path d="M659 903 C659.5 900.5 663 900.8 670 901 C685 901.5 700 902 708.6 903 C714 904 716.5 907 717.5 912 C718.5 917 720.5 922 718 925 C715.5 928 700 929 690 929.3 C680 929.8 670 931 665.5 929.5 C661 928 660 920 658.8 912 C658.3 908 658.5 905 659 903 Z" fill="url(#gred)"/>
<text x="683.00" y="921.00" font-family="Liberation Serif" font-size="22" text-anchor="middle" font-weight="normal" font-style="italic" fill="#ffffff" >pfi</text>
<path d="M752.8 785.8 C760 783.5 770 783.8 775.6 784 C785 784 796 784 800.5 785.8 C804 787.5 804.5 790 803 794 C801 800 799 806 795.6 809.3 C792 813 785 815 779.2 815 C772 815 765 814 761.4 812.2 C754 808 748 804 747.1 798 C746.5 792 748 788 752.8 785.8 Z" fill="url(#ggray)"/>
<text x="775.10" y="799.40" font-family="Liberation Serif" font-size="12" text-anchor="middle" font-weight="normal" font-style="normal" fill="#ffffff" >Desaturase</text>
<ellipse cx="823.0" cy="1234.4" rx="39.9" ry="15.2" fill="url(#gblue)"/>
<text x="822.40" y="1239.50" font-family="Liberation Serif" font-size="21" text-anchor="middle" font-weight="normal" font-style="italic" fill="#ffffff" >Rv3720</text>
<text x="561" y="780.9" font-family="Liberation Serif" font-size="15" font-weight="bold" fill="#1a1a1a">O<tspan font-size="9" dy="1">2</tspan><tspan dy="-1"> + DADPH + H</tspan><tspan font-size="9" dy="-6">+</tspan></text>
<text x="588.5" y="819.9" font-family="Liberation Serif" font-size="15" font-weight="bold" fill="#1a1a1a">DAD<tspan font-size="9" dy="-6">+</tspan><tspan dy="6">+ 2 H</tspan><tspan font-size="9" dy="1">2</tspan><tspan dy="-1">O</tspan></text>
<path d="M680.5 779.3 C706 780 728 788 728 799 C728 811 712 816.5 690 816.6" fill="none" stroke="#1a1a1a" stroke-width="1.8"/>
<path d="M678.5 816.6 L694.5 810.3 L689 816.6 L694.5 823 Z" fill="#1a1a1a"/>
<path d="M645.7 845.1 L655.7 849.6 L665.8 845.1 L675.9 849.6 L685.5 843.5 L694.9 843.5 L705.0 849.1 L714.6 843.5 L725.1 843.5 L735.2 849.1 L745.3 843.5 L755.3 843.5 L765.4 849.1 L775.5 843.5 L785.6 843.5 L795.6 849.1 L805.7 843.5 L815.8 843.5 L825.8 849.1 L834.8 843.5" fill="none" stroke="#1a1a1a" stroke-width="1.6" stroke-linejoin="miter"/>
<line x1="685.5" y1="843.5" x2="694.9" y2="843.5" stroke="#1a1a1a" stroke-width="3.2"/>
<line x1="714.6" y1="843.5" x2="725.1" y2="843.5" stroke="#1a1a1a" stroke-width="3.2"/>
<line x1="745.3" y1="843.5" x2="755.3" y2="843.5" stroke="#1a1a1a" stroke-width="3.2"/>
<line x1="775.5" y1="843.5" x2="785.6" y2="843.5" stroke="#1a1a1a" stroke-width="3.2"/>
<line x1="805.7" y1="843.5" x2="815.8" y2="843.5" stroke="#1a1a1a" stroke-width="3.2"/>
<line x1="645.70" y1="845.10" x2="645.70" y2="833.90" stroke="#1a1a1a" stroke-width="1.3" />
<line x1="645.70" y1="845.10" x2="638.50" y2="848.40" stroke="#1a1a1a" stroke-width="1.3" />
<text x="645.50" y="832.50" font-family="Liberation Serif" font-size="6" text-anchor="middle" font-weight="normal" font-style="normal" fill="#333" >O</text>
<text x="635.80" y="851.30" font-family="Liberation Serif" font-size="6" text-anchor="middle" font-weight="normal" font-style="normal" fill="#333" >O</text>
<text x="644.50" y="855.80" font-family="Liberation Serif" font-size="9.5" text-anchor="middle" font-weight="normal" font-style="normal" fill="#2f6fb5" >1</text>
<text x="683.70" y="855.80" font-family="Liberation Serif" font-size="9.5" text-anchor="middle" font-weight="normal" font-style="normal" fill="#2f6fb5" >5</text>
<text x="713.30" y="855.80" font-family="Liberation Serif" font-size="9.5" text-anchor="middle" font-weight="normal" font-style="normal" fill="#2f6fb5" >8</text>
<text x="745.90" y="855.80" font-family="Liberation Serif" font-size="9.5" text-anchor="middle" font-weight="normal" font-style="normal" fill="#2f6fb5" >11</text>
<text x="777.00" y="855.80" font-family="Liberation Serif" font-size="9.5" text-anchor="middle" font-weight="normal" font-style="normal" fill="#2f6fb5" >14</text>
<text x="806.80" y="855.80" font-family="Liberation Serif" font-size="9.5" text-anchor="middle" font-weight="normal" font-style="normal" fill="#2f6fb5" >17</text>
<text x="837.70" y="855.80" font-family="Liberation Serif" font-size="9.5" text-anchor="middle" font-weight="normal" font-style="normal" fill="#2f6fb5" >20</text>
<text x="764.40" y="878.80" font-family="Liberation Sans" font-size="15" text-anchor="middle" font-weight="bold" font-style="normal" fill="#1a1a1a" >(5Z,8Z,11Z,14Z,17Z)-eicosapentaenoate  (20:5 EPA)</text>
<path d="M639.0 957.4 L649.1 963.0 L659.2 957.4 L668.1 963.0 L678.2 956.9 L688.3 956.9 L698.3 962.3 L707.3 957.4 L717.4 962.3 L726.3 957.4 L736.4 963.0 L746.5 957.4 L756.5 963.0 L765.5 956.9 L775.6 956.9 L785.6 963.0 L795.7 956.9 L805.8 956.9 L815.8 963.0 L824.8 957.4" fill="none" stroke="#1a1a1a" stroke-width="1.6" stroke-linejoin="miter"/>
<line x1="678.2" y1="956.9" x2="688.3" y2="956.9" stroke="#1a1a1a" stroke-width="3.2"/>
<line x1="698.3" y1="962.3" x2="707.3" y2="957.4" stroke="#1a1a1a" stroke-width="3.2"/>
<line x1="717.4" y1="962.3" x2="726.3" y2="957.4" stroke="#1a1a1a" stroke-width="3.2"/>
<line x1="765.5" y1="956.9" x2="775.6" y2="956.9" stroke="#1a1a1a" stroke-width="3.2"/>
<line x1="795.7" y1="956.9" x2="805.8" y2="956.9" stroke="#1a1a1a" stroke-width="3.2"/>
<line x1="639.00" y1="957.40" x2="639.00" y2="947.30" stroke="#1a1a1a" stroke-width="1.3" />
<line x1="639.00" y1="957.40" x2="630.50" y2="961.80" stroke="#1a1a1a" stroke-width="1.3" />
<text x="639.00" y="946.50" font-family="Liberation Serif" font-size="6" text-anchor="middle" font-weight="normal" font-style="normal" fill="#333" >O</text>
<text x="628.50" y="965.50" font-family="Liberation Serif" font-size="6" text-anchor="middle" font-weight="normal" font-style="normal" fill="#333" >O</text>
<text x="648.60" y="973.00" font-family="Liberation Serif" font-size="9.5" text-anchor="middle" font-weight="normal" font-style="normal" fill="#2f6fb5" >1</text>
<text x="677.00" y="973.00" font-family="Liberation Serif" font-size="9.5" text-anchor="middle" font-weight="normal" font-style="normal" fill="#2f6fb5" >5</text>
<text x="697.90" y="973.00" font-family="Liberation Serif" font-size="9.5" text-anchor="middle" font-weight="normal" font-style="normal" fill="#2f6fb5" >7</text>
<text x="716.70" y="973.00" font-family="Liberation Serif" font-size="9.5" text-anchor="middle" font-weight="normal" font-style="normal" fill="#2f6fb5" >9</text>
<text x="765.90" y="973.00" font-family="Liberation Serif" font-size="9.5" text-anchor="middle" font-weight="normal" font-style="normal" fill="#2f6fb5" >14</text>
<text x="795.70" y="973.00" font-family="Liberation Serif" font-size="9.5" text-anchor="middle" font-weight="normal" font-style="normal" fill="#2f6fb5" >17</text>
<text x="827.70" y="973.00" font-family="Liberation Serif" font-size="9.5" text-anchor="middle" font-weight="normal" font-style="normal" fill="#2f6fb5" >20</text>
<text x="762.30" y="993.20" font-family="Liberation Sans" font-size="15" text-anchor="middle" font-weight="bold" font-style="normal" fill="#1a1a1a" >(5Z,7E,9E,14Z,17Z)-icosa-5,7,9,14,17-pentaenoate</text>
<circle cx="623.2" cy="1093.7" r="6.7" fill="url(#gball)" stroke="#2a2222" stroke-width="1.1"/>
<circle cx="638.5" cy="1093.7" r="6.7" fill="url(#gball)" stroke="#2a2222" stroke-width="1.1"/>
<circle cx="653.9" cy="1093.7" r="6.7" fill="url(#gball)" stroke="#2a2222" stroke-width="1.1"/>
<circle cx="669.2" cy="1093.7" r="6.7" fill="url(#gball)" stroke="#2a2222" stroke-width="1.1"/>
<circle cx="684.5" cy="1093.7" r="6.7" fill="url(#gball)" stroke="#2a2222" stroke-width="1.1"/>
<circle cx="699.9" cy="1093.7" r="6.7" fill="url(#gball)" stroke="#2a2222" stroke-width="1.1"/>
<circle cx="715.2" cy="1093.7" r="6.7" fill="url(#gball)" stroke="#2a2222" stroke-width="1.1"/>
<circle cx="730.5" cy="1093.7" r="6.7" fill="url(#gball)" stroke="#2a2222" stroke-width="1.1"/>
<circle cx="745.8" cy="1093.7" r="6.7" fill="url(#gball)" stroke="#2a2222" stroke-width="1.1"/>
<circle cx="761.2" cy="1093.7" r="6.7" fill="url(#gball)" stroke="#2a2222" stroke-width="1.1"/>
<circle cx="776.5" cy="1093.7" r="6.7" fill="url(#gball)" stroke="#2a2222" stroke-width="1.1"/>
<circle cx="791.8" cy="1093.7" r="6.7" fill="url(#gball)" stroke="#2a2222" stroke-width="1.1"/>
<circle cx="807.2" cy="1093.7" r="6.7" fill="url(#gball)" stroke="#2a2222" stroke-width="1.1"/>
<circle cx="822.5" cy="1093.7" r="6.7" fill="url(#gball)" stroke="#2a2222" stroke-width="1.1"/>
<circle cx="630.5" cy="1100.0" r="6.7" fill="url(#gball)" stroke="#2a2222" stroke-width="1.1"/>
<circle cx="645.8" cy="1100.0" r="6.7" fill="url(#gball)" stroke="#2a2222" stroke-width="1.1"/>
<circle cx="661.2" cy="1100.0" r="6.7" fill="url(#gball)" stroke="#2a2222" stroke-width="1.1"/>
<circle cx="676.5" cy="1100.0" r="6.7" fill="url(#gball)" stroke="#2a2222" stroke-width="1.1"/>
<circle cx="691.8" cy="1100.0" r="6.7" fill="url(#gball)" stroke="#2a2222" stroke-width="1.1"/>
<circle cx="707.1" cy="1100.0" r="6.7" fill="url(#gball)" stroke="#2a2222" stroke-width="1.1"/>
<circle cx="722.5" cy="1100.0" r="6.7" fill="url(#gball)" stroke="#2a2222" stroke-width="1.1"/>
<circle cx="737.8" cy="1100.0" r="6.7" fill="url(#gball)" stroke="#2a2222" stroke-width="1.1"/>
<circle cx="753.1" cy="1100.0" r="6.7" fill="url(#gball)" stroke="#2a2222" stroke-width="1.1"/>
<circle cx="768.5" cy="1100.0" r="6.7" fill="url(#gball)" stroke="#2a2222" stroke-width="1.1"/>
<circle cx="783.8" cy="1100.0" r="6.7" fill="url(#gball)" stroke="#2a2222" stroke-width="1.1"/>
<circle cx="799.1" cy="1100.0" r="6.7" fill="url(#gball)" stroke="#2a2222" stroke-width="1.1"/>
<circle cx="814.5" cy="1100.0" r="6.7" fill="url(#gball)" stroke="#2a2222" stroke-width="1.1"/>
<circle cx="829.8" cy="1100.0" r="6.7" fill="url(#gball)" stroke="#2a2222" stroke-width="1.1"/>
<path d="M617 1064 L834 1064 L844 1099 L627 1099 Z" fill="#b9959a" opacity="0.88"/>
<path d="M620.3 1064.0 L619.3 1066.9 L618.8 1069.8 L620.3 1072.8 L622.5 1075.7 L623.0 1078.6 L621.9 1081.5 L621.7 1084.4 L623.5 1087.3 L625.5 1090.2 L625.7 1093.2 L624.6 1096.1 L624.7 1099.0 M623.7 1064.0 L624.3 1066.9 L623.2 1069.8 L623.0 1072.8 L624.7 1075.7 L626.8 1078.6 L627.0 1081.5 L625.9 1084.4 L626.0 1087.3 L628.0 1090.2 L629.8 1093.2 L629.6 1096.1 L628.6 1099.0 M625.1 1064.0 L625.7 1066.9 L627.9 1069.8 L629.3 1072.8 L628.7 1075.7 L627.8 1078.6 L628.8 1081.5 L631.1 1084.4 L632.2 1087.3 L631.3 1090.2 L630.7 1093.2 L632.0 1096.1 L634.2 1099.0 M630.4 1064.0 L631.8 1066.9 L631.1 1069.8 L630.2 1072.8 L631.3 1075.7 L633.6 1078.6 L634.6 1081.5 L633.7 1084.4 L633.1 1087.3 L634.5 1090.2 L636.7 1093.2 L637.4 1096.1 L636.3 1099.0 M633.1 1064.0 L632.6 1066.9 L634.1 1069.8 L636.3 1072.8 L636.8 1075.7 L635.7 1078.6 L635.5 1081.5 L637.3 1084.4 L639.4 1087.3 L639.5 1090.2 L638.4 1093.2 L638.5 1096.1 L640.6 1099.0 M638.0 1064.0 L637.0 1066.9 L636.8 1069.8 L638.6 1072.8 L640.6 1075.7 L640.7 1078.6 L639.6 1081.5 L639.8 1084.4 L641.8 1087.3 L643.6 1090.2 L643.4 1093.2 L642.3 1096.1 L642.9 1099.0 M641.1 1064.0 L642.6 1066.9 L642.0 1069.8 L641.1 1072.8 L642.0 1075.7 L644.3 1078.6 L645.4 1081.5 L644.6 1084.4 L643.9 1087.3 L645.2 1090.2 L647.4 1093.2 L648.2 1096.1 L647.2 1099.0 M644.1 1064.0 L643.4 1066.9 L644.7 1069.8 L647.0 1072.8 L647.7 1075.7 L646.8 1078.6 L646.3 1081.5 L647.9 1084.4 L650.1 1087.3 L650.5 1090.2 L649.4 1093.2 L649.2 1096.1 L651.1 1099.0 M648.1 1064.0 L649.8 1066.9 L649.4 1069.8 L648.4 1072.8 L649.1 1075.7 L651.3 1078.6 L652.7 1081.5 L652.0 1084.4 L651.2 1087.3 L652.2 1090.2 L654.5 1093.2 L655.5 1096.1 L654.6 1099.0 M652.0 1064.0 L650.9 1066.9 L651.4 1069.8 L653.6 1072.8 L655.1 1075.7 L654.6 1078.6 L653.7 1081.5 L654.5 1084.4 L656.8 1087.3 L658.0 1090.2 L657.2 1093.2 L656.5 1096.1 L657.7 1099.0 M655.6 1064.0 L657.0 1066.9 L656.3 1069.8 L655.4 1072.8 L656.5 1075.7 L658.8 1078.6 L659.8 1081.5 L658.9 1084.4 L658.3 1087.3 L659.7 1090.2 L661.9 1093.2 L662.6 1096.1 L661.5 1099.0 M659.4 1064.0 L660.5 1066.9 L659.7 1069.8 L659.0 1072.8 L660.2 1075.7 L662.5 1078.6 L663.3 1081.5 L662.3 1084.4 L661.9 1087.3 L663.4 1090.2 L665.6 1093.2 L666.1 1096.1 L665.0 1099.0 M662.8 1064.0 L661.8 1066.9 L662.2 1069.8 L664.3 1072.8 L665.9 1075.7 L665.5 1078.6 L664.5 1081.5 L665.3 1084.4 L667.5 1087.3 L668.8 1090.2 L668.1 1093.2 L667.3 1096.1 L668.4 1099.0 M664.6 1064.0 L666.7 1066.9 L668.4 1069.8 L668.0 1072.8 L667.0 1075.7 L667.6 1078.6 L669.9 1081.5 L671.3 1084.4 L670.6 1087.3 L669.8 1090.2 L670.8 1093.2 L673.1 1096.1 L674.1 1099.0 M670.4 1064.0 L671.2 1066.9 L670.2 1069.8 L669.8 1072.8 L671.3 1075.7 L673.5 1078.6 L673.9 1081.5 L672.9 1084.4 L672.7 1087.3 L674.5 1090.2 L676.5 1093.2 L676.6 1096.1 L675.5 1099.0 M674.4 1064.0 L674.2 1066.9 L673.1 1069.8 L673.6 1072.8 L675.8 1075.7 L677.3 1078.6 L676.8 1081.5 L675.9 1084.4 L676.7 1087.3 L679.0 1090.2 L680.2 1093.2 L679.4 1096.1 L678.7 1099.0 M675.6 1064.0 L676.0 1066.9 L678.1 1069.8 L679.7 1072.8 L679.3 1075.7 L678.3 1078.6 L679.1 1081.5 L681.3 1084.4 L682.6 1087.3 L681.9 1090.2 L681.1 1093.2 L682.2 1096.1 L684.5 1099.0 M679.7 1064.0 L681.9 1066.9 L682.4 1069.8 L681.4 1072.8 L681.2 1075.7 L683.0 1078.6 L685.0 1081.5 L685.1 1084.4 L684.0 1087.3 L684.1 1090.2 L686.2 1093.2 L688.0 1096.1 L687.8 1099.0 M683.2 1064.0 L683.0 1066.9 L684.9 1069.8 L686.9 1072.8 L686.9 1075.7 L685.8 1078.6 L686.0 1081.5 L688.1 1084.4 L689.9 1087.3 L689.6 1090.2 L688.5 1093.2 L689.1 1096.1 L691.3 1099.0 M688.2 1064.0 L687.1 1066.9 L687.3 1069.8 L689.3 1072.8 L691.1 1075.7 L690.9 1078.6 L689.8 1081.5 L690.3 1084.4 L692.5 1087.3 L694.0 1090.2 L693.5 1093.2 L692.6 1096.1 L693.4 1099.0 M690.8 1064.0 L692.9 1066.9 L693.1 1069.8 L692.0 1072.8 L692.0 1075.7 L694.0 1078.6 L695.9 1081.5 L695.7 1084.4 L694.6 1087.3 L695.1 1090.2 L697.2 1093.2 L698.8 1096.1 L698.4 1099.0 M695.0 1064.0 L696.6 1066.9 L696.1 1069.8 L695.1 1072.8 L695.9 1075.7 L698.2 1078.6 L699.5 1081.5 L698.7 1084.4 L697.9 1087.3 L699.1 1090.2 L701.4 1093.2 L702.3 1096.1 L701.3 1099.0 M697.1 1064.0 L699.3 1066.9 L700.8 1069.8 L700.1 1072.8 L699.2 1075.7 L700.2 1078.6 L702.5 1081.5 L703.6 1084.4 L702.8 1087.3 L702.1 1090.2 L703.4 1093.2 L705.7 1096.1 L706.4 1099.0 M703.2 1064.0 L702.4 1066.9 L701.6 1069.8 L702.8 1072.8 L705.1 1075.7 L706.0 1078.6 L705.0 1081.5 L704.5 1084.4 L706.0 1087.3 L708.2 1090.2 L708.7 1093.2 L707.7 1096.1 L707.4 1099.0 M706.5 1064.0 L707.1 1066.9 L706.1 1069.8 L705.8 1072.8 L707.5 1075.7 L709.6 1078.6 L709.8 1081.5 L708.7 1084.4 L708.7 1087.3 L710.7 1090.2 L712.6 1093.2 L712.5 1096.1 L711.4 1099.0 M709.9 1064.0 L710.8 1066.9 L709.9 1069.8 L709.4 1072.8 L710.9 1075.7 L713.1 1078.6 L713.6 1081.5 L712.5 1084.4 L712.3 1087.3 L714.1 1090.2 L716.1 1093.2 L716.3 1096.1 L715.2 1099.0 M713.9 1064.0 L713.0 1066.9 L712.4 1069.8 L713.7 1072.8 L716.0 1075.7 L716.7 1078.6 L715.7 1081.5 L715.3 1084.4 L716.9 1087.3 L719.1 1090.2 L719.4 1093.2 L718.3 1096.1 L718.2 1099.0 M714.9 1064.0 L717.0 1066.9 L718.8 1069.8 L718.5 1072.8 L717.4 1075.7 L718.0 1078.6 L720.2 1081.5 L721.7 1084.4 L721.1 1087.3 L720.2 1090.2 L721.1 1093.2 L723.4 1096.1 L724.5 1099.0 M721.1 1064.0 L721.3 1066.9 L720.2 1069.8 L720.2 1072.8 L722.2 1075.7 L724.1 1078.6 L724.0 1081.5 L722.9 1084.4 L723.3 1087.3 L725.4 1090.2 L727.0 1093.2 L726.6 1096.1 L725.6 1099.0 M722.7 1064.0 L722.6 1066.9 L724.5 1069.8 L726.5 1072.8 L726.5 1075.7 L725.4 1078.6 L725.6 1081.5 L727.7 1084.4 L729.5 1087.3 L729.1 1090.2 L728.1 1093.2 L728.7 1096.1 L730.9 1099.0 M725.9 1064.0 L726.4 1066.9 L728.6 1069.8 L730.1 1072.8 L729.6 1075.7 L728.7 1078.6 L729.5 1081.5 L731.8 1084.4 L733.0 1087.3 L732.2 1090.2 L731.5 1093.2 L732.7 1096.1 L735.0 1099.0 M731.6 1064.0 L730.5 1066.9 L730.4 1069.8 L732.3 1072.8 L734.3 1075.7 L734.3 1078.6 L733.2 1081.5 L733.4 1084.4 L735.5 1087.3 L737.2 1090.2 L736.9 1093.2 L735.9 1096.1 L736.5 1099.0 M733.8 1064.0 L733.4 1066.9 L735.0 1069.8 L737.2 1072.8 L737.5 1075.7 L736.4 1078.6 L736.3 1081.5 L738.2 1084.4 L740.2 1087.3 L740.2 1090.2 L739.1 1093.2 L739.4 1096.1 L741.5 1099.0 M738.3 1064.0 L739.8 1066.9 L739.2 1069.8 L738.3 1072.8 L739.2 1075.7 L741.5 1078.6 L742.6 1081.5 L741.8 1084.4 L741.1 1087.3 L742.4 1090.2 L744.7 1093.2 L745.4 1096.1 L744.4 1099.0 M741.9 1064.0 L743.4 1066.9 L742.8 1069.8 L741.9 1072.8 L742.8 1075.7 L745.1 1078.6 L746.2 1081.5 L745.4 1084.4 L744.7 1087.3 L746.0 1090.2 L748.2 1093.2 L749.0 1096.1 L748.0 1099.0 M746.3 1064.0 L746.3 1066.9 L745.2 1069.8 L745.5 1072.8 L747.6 1075.7 L749.3 1078.6 L749.0 1081.5 L747.9 1084.4 L748.6 1087.3 L750.8 1090.2 L752.2 1093.2 L751.6 1096.1 L750.7 1099.0 M747.3 1064.0 L748.3 1066.9 L750.5 1069.8 L751.7 1072.8 L750.9 1075.7 L750.2 1078.6 L751.4 1081.5 L753.7 1084.4 L754.5 1087.3 L753.5 1090.2 L753.0 1093.2 L754.6 1096.1 L756.8 1099.0 M752.8 1064.0 L751.7 1066.9 L752.2 1069.8 L754.4 1072.8 L755.9 1075.7 L755.4 1078.6 L754.5 1081.5 L755.3 1084.4 L757.6 1087.3 L758.8 1090.2 L758.1 1093.2 L757.3 1096.1 L758.5 1099.0 M757.1 1064.0 L756.2 1066.9 L755.6 1069.8 L757.0 1072.8 L759.2 1075.7 L759.9 1078.6 L758.8 1081.5 L758.5 1084.4 L760.2 1087.3 L762.3 1090.2 L762.6 1093.2 L761.5 1096.1 L761.5 1099.0 M758.7 1064.0 L758.6 1066.9 L760.6 1069.8 L762.5 1072.8 L762.5 1075.7 L761.4 1078.6 L761.7 1081.5 L763.8 1084.4 L765.5 1087.3 L765.1 1090.2 L764.1 1093.2 L764.7 1096.1 L767.0 1099.0 M763.4 1064.0 L762.4 1066.9 L763.1 1069.8 L765.4 1072.8 L766.7 1075.7 L766.0 1078.6 L765.2 1081.5 L766.3 1084.4 L768.5 1087.3 L769.5 1090.2 L768.6 1093.2 L768.0 1096.1 L769.5 1099.0 M767.9 1064.0 L767.1 1066.9 L766.4 1069.8 L767.7 1072.8 L769.9 1075.7 L770.7 1078.6 L769.7 1081.5 L769.3 1084.4 L770.9 1087.3 L773.0 1090.2 L773.5 1093.2 L772.4 1096.1 L772.2 1099.0 M768.9 1064.0 L770.8 1066.9 L772.7 1069.8 L772.7 1072.8 L771.6 1075.7 L771.9 1078.6 L774.0 1081.5 L775.7 1084.4 L775.3 1087.3 L774.3 1090.2 L775.0 1093.2 L777.2 1096.1 L778.6 1099.0 M772.5 1064.0 L773.6 1066.9 L775.9 1069.8 L776.8 1072.8 L775.9 1075.7 L775.3 1078.6 L776.8 1081.5 L779.0 1084.4 L779.6 1087.3 L778.5 1090.2 L778.2 1093.2 L780.0 1096.1 L782.1 1099.0 M778.8 1064.0 L778.4 1066.9 L777.4 1069.8 L778.1 1072.8 L780.3 1075.7 L781.7 1078.6 L781.0 1081.5 L780.2 1084.4 L781.2 1087.3 L783.5 1090.2 L784.5 1093.2 L783.6 1096.1 L783.0 1099.0 M780.4 1064.0 L780.2 1066.9 L782.1 1069.8 L784.1 1072.8 L784.1 1075.7 L783.0 1078.6 L783.2 1081.5 L785.3 1084.4 L787.1 1087.3 L786.8 1090.2 L785.7 1093.2 L786.3 1096.1 L788.5 1099.0 M784.4 1064.0 L783.8 1066.9 L785.2 1069.8 L787.5 1072.8 L788.1 1075.7 L787.0 1078.6 L786.7 1081.5 L788.4 1084.4 L790.5 1087.3 L790.8 1090.2 L789.7 1093.2 L789.7 1096.1 L791.7 1099.0 M787.2 1064.0 L789.5 1066.9 L790.7 1069.8 L790.0 1072.8 L789.2 1075.7 L790.4 1078.6 L792.6 1081.5 L793.5 1084.4 L792.6 1087.3 L792.1 1090.2 L793.5 1093.2 L795.8 1096.1 L796.3 1099.0 M790.4 1064.0 L791.8 1066.9 L794.1 1069.8 L794.7 1072.8 L793.6 1075.7 L793.3 1078.6 L795.0 1081.5 L797.1 1084.4 L797.4 1087.3 L796.3 1090.2 L796.3 1093.2 L798.3 1096.1 L800.2 1099.0 M796.8 1064.0 L796.0 1066.9 L795.2 1069.8 L796.4 1072.8 L798.7 1075.7 L799.6 1078.6 L798.6 1081.5 L798.1 1084.4 L799.6 1087.3 L801.8 1090.2 L802.3 1093.2 L801.3 1096.1 L801.0 1099.0 M798.8 1064.0 L800.9 1066.9 L801.0 1069.8 L799.9 1072.8 L800.0 1075.7 L802.0 1078.6 L803.9 1081.5 L803.7 1084.4 L802.6 1087.3 L803.1 1090.2 L805.3 1093.2 L806.8 1096.1 L806.3 1099.0 M803.5 1064.0 L804.4 1066.9 L803.5 1069.8 L803.0 1072.8 L804.5 1075.7 L806.7 1078.6 L807.2 1081.5 L806.1 1084.4 L805.9 1087.3 L807.7 1090.2 L809.7 1093.2 L809.9 1096.1 L808.8 1099.0 M806.9 1064.0 L805.8 1066.9 L806.1 1069.8 L808.3 1072.8 L809.9 1075.7 L809.5 1078.6 L808.5 1081.5 L809.2 1084.4 L811.5 1087.3 L812.8 1090.2 L812.1 1093.2 L811.3 1096.1 L812.4 1099.0 M808.4 1064.0 L810.1 1066.9 L812.2 1069.8 L812.5 1072.8 L811.4 1075.7 L811.4 1078.6 L813.3 1081.5 L815.2 1084.4 L815.2 1087.3 L814.1 1090.2 L814.4 1093.2 L816.5 1096.1 L818.2 1099.0 M814.5 1064.0 L815.1 1066.9 L814.0 1069.8 L813.8 1072.8 L815.6 1075.7 L817.6 1078.6 L817.8 1081.5 L816.7 1084.4 L816.8 1087.3 L818.8 1090.2 L820.6 1093.2 L820.4 1096.1 L819.4 1099.0 M817.1 1064.0 L816.3 1066.9 L817.4 1069.8 L819.6 1072.8 L820.6 1075.7 L819.7 1078.6 L819.1 1081.5 L820.5 1084.4 L822.8 1087.3 L823.4 1090.2 L822.3 1093.2 L822.0 1096.1 L823.8 1099.0 M820.9 1064.0 L822.6 1066.9 L822.2 1069.8 L821.2 1072.8 L821.9 1075.7 L824.1 1078.6 L825.5 1081.5 L824.8 1084.4 L824.0 1087.3 L825.0 1090.2 L827.3 1093.2 L828.3 1096.1 L827.4 1099.0 M823.0 1064.0 L823.8 1066.9 L826.1 1069.8 L827.3 1072.8 L826.6 1075.7 L825.8 1078.6 L826.9 1081.5 L829.2 1084.4 L830.1 1087.3 L829.2 1090.2 L828.6 1093.2 L830.1 1096.1 L832.3 1099.0 M826.4 1064.0 L828.1 1066.9 L830.2 1069.8 L830.5 1072.8 L829.4 1075.7 L829.4 1078.6 L831.3 1081.5 L833.2 1084.4 L833.1 1087.3 L832.1 1090.2 L832.4 1093.2 L834.6 1096.1 L836.2 1099.0 M830.8 1064.0 L830.6 1066.9 L832.4 1069.8 L834.5 1072.8 L834.6 1075.7 L833.4 1078.6 L833.6 1081.5 L835.7 1084.4 L837.5 1087.3 L837.2 1090.2 L836.1 1093.2 L836.7 1096.1 L838.9 1099.0 M834.0 1064.0 L836.3 1066.9 L837.5 1069.8 L836.8 1072.8 L836.0 1075.7 L837.2 1078.6 L839.4 1081.5 L840.3 1084.4 L839.4 1087.3 L838.9 1090.2 L840.4 1093.2 L842.6 1096.1 L843.1 1099.0 M839.9 1064.0 L839.0 1066.9 L838.4 1069.8 L839.8 1072.8 L842.0 1075.7 L842.7 1078.6 L841.6 1081.5 L841.3 1084.4 L843.0 1087.3 L845.1 1090.2 L845.4 1093.2 L844.3 1096.1 L844.3 1099.0" fill="none" stroke="#f3eaeb" stroke-width="1.2" opacity="0.85"/>
<path d="M617 1062 C612 1066 617 1070 613 1074 M839 1086 C843 1088 840 1093 842 1097" fill="none" stroke="#b08a90" stroke-width="1.2"/>
<circle cx="616.5" cy="1051.5" r="6.7" fill="url(#gball)" stroke="#2a2222" stroke-width="1.1"/>
<circle cx="631.8" cy="1051.5" r="6.7" fill="url(#gball)" stroke="#2a2222" stroke-width="1.1"/>
<circle cx="647.2" cy="1051.5" r="6.7" fill="url(#gball)" stroke="#2a2222" stroke-width="1.1"/>
<circle cx="662.5" cy="1051.5" r="6.7" fill="url(#gball)" stroke="#2a2222" stroke-width="1.1"/>
<circle cx="677.8" cy="1051.5" r="6.7" fill="url(#gball)" stroke="#2a2222" stroke-width="1.1"/>
<circle cx="693.1" cy="1051.5" r="6.7" fill="url(#gball)" stroke="#2a2222" stroke-width="1.1"/>
<circle cx="708.5" cy="1051.5" r="6.7" fill="url(#gball)" stroke="#2a2222" stroke-width="1.1"/>
<circle cx="723.8" cy="1051.5" r="6.7" fill="url(#gball)" stroke="#2a2222" stroke-width="1.1"/>
<circle cx="739.1" cy="1051.5" r="6.7" fill="url(#gball)" stroke="#2a2222" stroke-width="1.1"/>
<circle cx="754.5" cy="1051.5" r="6.7" fill="url(#gball)" stroke="#2a2222" stroke-width="1.1"/>
<circle cx="769.8" cy="1051.5" r="6.7" fill="url(#gball)" stroke="#2a2222" stroke-width="1.1"/>
<circle cx="785.1" cy="1051.5" r="6.7" fill="url(#gball)" stroke="#2a2222" stroke-width="1.1"/>
<circle cx="800.5" cy="1051.5" r="6.7" fill="url(#gball)" stroke="#2a2222" stroke-width="1.1"/>
<circle cx="815.8" cy="1051.5" r="6.7" fill="url(#gball)" stroke="#2a2222" stroke-width="1.1"/>
<circle cx="623.8" cy="1058.2" r="6.7" fill="url(#gball)" stroke="#2a2222" stroke-width="1.1"/>
<circle cx="639.1" cy="1058.2" r="6.7" fill="url(#gball)" stroke="#2a2222" stroke-width="1.1"/>
<circle cx="654.5" cy="1058.2" r="6.7" fill="url(#gball)" stroke="#2a2222" stroke-width="1.1"/>
<circle cx="669.8" cy="1058.2" r="6.7" fill="url(#gball)" stroke="#2a2222" stroke-width="1.1"/>
<circle cx="685.1" cy="1058.2" r="6.7" fill="url(#gball)" stroke="#2a2222" stroke-width="1.1"/>
<circle cx="700.4" cy="1058.2" r="6.7" fill="url(#gball)" stroke="#2a2222" stroke-width="1.1"/>
<circle cx="715.8" cy="1058.2" r="6.7" fill="url(#gball)" stroke="#2a2222" stroke-width="1.1"/>
<circle cx="731.1" cy="1058.2" r="6.7" fill="url(#gball)" stroke="#2a2222" stroke-width="1.1"/>
<circle cx="746.4" cy="1058.2" r="6.7" fill="url(#gball)" stroke="#2a2222" stroke-width="1.1"/>
<circle cx="761.8" cy="1058.2" r="6.7" fill="url(#gball)" stroke="#2a2222" stroke-width="1.1"/>
<circle cx="777.1" cy="1058.2" r="6.7" fill="url(#gball)" stroke="#2a2222" stroke-width="1.1"/>
<circle cx="792.4" cy="1058.2" r="6.7" fill="url(#gball)" stroke="#2a2222" stroke-width="1.1"/>
<circle cx="807.8" cy="1058.2" r="6.7" fill="url(#gball)" stroke="#2a2222" stroke-width="1.1"/>
<circle cx="823.1" cy="1058.2" r="6.7" fill="url(#gball)" stroke="#2a2222" stroke-width="1.1"/>
<circle cx="631.5" cy="1063.8" r="6.7" fill="url(#gball)" stroke="#2a2222" stroke-width="1.1"/>
<circle cx="646.8" cy="1063.8" r="6.7" fill="url(#gball)" stroke="#2a2222" stroke-width="1.1"/>
<circle cx="662.2" cy="1063.8" r="6.7" fill="url(#gball)" stroke="#2a2222" stroke-width="1.1"/>
<circle cx="677.5" cy="1063.8" r="6.7" fill="url(#gball)" stroke="#2a2222" stroke-width="1.1"/>
<circle cx="692.8" cy="1063.8" r="6.7" fill="url(#gball)" stroke="#2a2222" stroke-width="1.1"/>
<circle cx="708.1" cy="1063.8" r="6.7" fill="url(#gball)" stroke="#2a2222" stroke-width="1.1"/>
<circle cx="723.5" cy="1063.8" r="6.7" fill="url(#gball)" stroke="#2a2222" stroke-width="1.1"/>
<circle cx="738.8" cy="1063.8" r="6.7" fill="url(#gball)" stroke="#2a2222" stroke-width="1.1"/>
<circle cx="754.1" cy="1063.8" r="6.7" fill="url(#gball)" stroke="#2a2222" stroke-width="1.1"/>
<circle cx="769.5" cy="1063.8" r="6.7" fill="url(#gball)" stroke="#2a2222" stroke-width="1.1"/>
<circle cx="784.8" cy="1063.8" r="6.7" fill="url(#gball)" stroke="#2a2222" stroke-width="1.1"/>
<circle cx="800.1" cy="1063.8" r="6.7" fill="url(#gball)" stroke="#2a2222" stroke-width="1.1"/>
<circle cx="815.5" cy="1063.8" r="6.7" fill="url(#gball)" stroke="#2a2222" stroke-width="1.1"/>
<circle cx="830.8" cy="1063.8" r="6.7" fill="url(#gball)" stroke="#2a2222" stroke-width="1.1"/>
<circle cx="637.9" cy="1105.3" r="6.7" fill="url(#gball)" stroke="#2a2222" stroke-width="1.1"/>
<circle cx="653.2" cy="1105.3" r="6.7" fill="url(#gball)" stroke="#2a2222" stroke-width="1.1"/>
<circle cx="668.6" cy="1105.3" r="6.7" fill="url(#gball)" stroke="#2a2222" stroke-width="1.1"/>
<circle cx="683.9" cy="1105.3" r="6.7" fill="url(#gball)" stroke="#2a2222" stroke-width="1.1"/>
<circle cx="699.2" cy="1105.3" r="6.7" fill="url(#gball)" stroke="#2a2222" stroke-width="1.1"/>
<circle cx="714.5" cy="1105.3" r="6.7" fill="url(#gball)" stroke="#2a2222" stroke-width="1.1"/>
<circle cx="729.9" cy="1105.3" r="6.7" fill="url(#gball)" stroke="#2a2222" stroke-width="1.1"/>
<circle cx="745.2" cy="1105.3" r="6.7" fill="url(#gball)" stroke="#2a2222" stroke-width="1.1"/>
<circle cx="760.5" cy="1105.3" r="6.7" fill="url(#gball)" stroke="#2a2222" stroke-width="1.1"/>
<circle cx="775.9" cy="1105.3" r="6.7" fill="url(#gball)" stroke="#2a2222" stroke-width="1.1"/>
<circle cx="791.2" cy="1105.3" r="6.7" fill="url(#gball)" stroke="#2a2222" stroke-width="1.1"/>
<circle cx="806.5" cy="1105.3" r="6.7" fill="url(#gball)" stroke="#2a2222" stroke-width="1.1"/>
<circle cx="821.9" cy="1105.3" r="6.7" fill="url(#gball)" stroke="#2a2222" stroke-width="1.1"/>
<circle cx="837.2" cy="1105.3" r="6.7" fill="url(#gball)" stroke="#2a2222" stroke-width="1.1"/>
<text x="915.30" y="1082.30" font-family="Liberation Sans" font-size="15" text-anchor="middle" font-weight="bold" font-style="normal" fill="#1a1a1a" >Membrane fluidity</text>
<text x="758.80" y="1193.20" font-family="Liberation Sans" font-size="15" text-anchor="middle" font-weight="bold" font-style="normal" fill="#1a1a1a" >Phospholipid cyclopropane fatty acid</text>
<text x="762.00" y="1285.10" font-family="Liberation Sans" font-size="15" text-anchor="middle" font-weight="bold" font-style="normal" fill="#1a1a1a" >Phospholipid olefinic fatty acid</text>
</svg></body></html>
